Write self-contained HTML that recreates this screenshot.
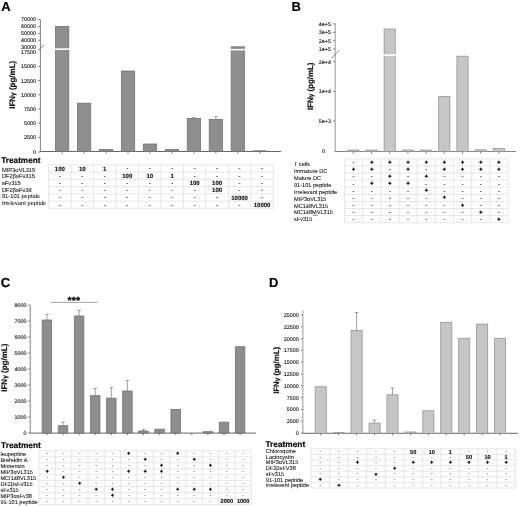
<!DOCTYPE html>
<html lang="en">
<head>
<meta charset="utf-8">
<title>Figure</title>
<style>
html,body{margin:0;padding:0;background:#fff;}
body{width:520px;height:506px;overflow:hidden;}
svg{display:block;font-family:'Liberation Sans', Arial, sans-serif;}
</style>
</head>
<body>
<svg width="520" height="506" viewBox="0 0 520 506" text-rendering="geometricPrecision" font-family='"Liberation Sans", Arial, sans-serif'>
<defs><filter id="soft" x="0" y="0" width="520" height="506" filterUnits="userSpaceOnUse" color-interpolation-filters="sRGB"><feGaussianBlur stdDeviation="0.3"/></filter></defs>
<g filter="url(#soft)">
<rect x="-5" y="-5" width="530" height="516" fill="#ffffff"/>
<text x="1.20" y="10.50" font-size="13" text-anchor="start" font-weight="bold" fill="#000" stroke="#000" stroke-width="0.15">A</text>
<line x1="40.40" y1="19.50" x2="40.40" y2="151.50" stroke="#747474" stroke-width="0.9"/>
<line x1="40.00" y1="151.50" x2="281.00" y2="151.50" stroke="#555555" stroke-width="0.9"/>
<line x1="37.50" y1="51.00" x2="43.80" y2="45.20" stroke="#555" stroke-width="0.7"/>
<text x="36.00" y="21.45" font-size="5.4" text-anchor="end" fill="#0c0c0c" stroke="#0c0c0c" stroke-width="0.1">70000</text>
<line x1="38.00" y1="19.50" x2="40.40" y2="19.50" stroke="#747474" stroke-width="0.9"/>
<text x="36.00" y="28.45" font-size="5.4" text-anchor="end" fill="#0c0c0c" stroke="#0c0c0c" stroke-width="0.1">60000</text>
<line x1="38.00" y1="26.50" x2="40.40" y2="26.50" stroke="#747474" stroke-width="0.9"/>
<text x="36.00" y="35.35" font-size="5.4" text-anchor="end" fill="#0c0c0c" stroke="#0c0c0c" stroke-width="0.1">50000</text>
<line x1="38.00" y1="33.40" x2="40.40" y2="33.40" stroke="#747474" stroke-width="0.9"/>
<text x="36.00" y="42.20" font-size="5.4" text-anchor="end" fill="#0c0c0c" stroke="#0c0c0c" stroke-width="0.1">40000</text>
<line x1="38.00" y1="40.25" x2="40.40" y2="40.25" stroke="#747474" stroke-width="0.9"/>
<text x="36.00" y="48.95" font-size="5.4" text-anchor="end" fill="#0c0c0c" stroke="#0c0c0c" stroke-width="0.1">30000</text>
<text x="36.00" y="54.15" font-size="5.4" text-anchor="end" fill="#0c0c0c" stroke="#0c0c0c" stroke-width="0.1">17500</text>
<text x="36.00" y="68.35" font-size="5.4" text-anchor="end" fill="#0c0c0c" stroke="#0c0c0c" stroke-width="0.1">15000</text>
<line x1="38.00" y1="66.40" x2="40.40" y2="66.40" stroke="#747474" stroke-width="0.9"/>
<text x="36.00" y="82.55" font-size="5.4" text-anchor="end" fill="#0c0c0c" stroke="#0c0c0c" stroke-width="0.1">12500</text>
<line x1="38.00" y1="80.60" x2="40.40" y2="80.60" stroke="#747474" stroke-width="0.9"/>
<text x="36.00" y="96.75" font-size="5.4" text-anchor="end" fill="#0c0c0c" stroke="#0c0c0c" stroke-width="0.1">10000</text>
<line x1="38.00" y1="94.80" x2="40.40" y2="94.80" stroke="#747474" stroke-width="0.9"/>
<text x="36.00" y="110.95" font-size="5.4" text-anchor="end" fill="#0c0c0c" stroke="#0c0c0c" stroke-width="0.1">7500</text>
<line x1="38.00" y1="109.00" x2="40.40" y2="109.00" stroke="#747474" stroke-width="0.9"/>
<text x="36.00" y="125.15" font-size="5.4" text-anchor="end" fill="#0c0c0c" stroke="#0c0c0c" stroke-width="0.1">5000</text>
<line x1="38.00" y1="123.20" x2="40.40" y2="123.20" stroke="#747474" stroke-width="0.9"/>
<text x="36.00" y="139.35" font-size="5.4" text-anchor="end" fill="#0c0c0c" stroke="#0c0c0c" stroke-width="0.1">2500</text>
<line x1="38.00" y1="137.40" x2="40.40" y2="137.40" stroke="#747474" stroke-width="0.9"/>
<text x="36.00" y="153.95" font-size="5.4" text-anchor="end" fill="#0c0c0c" stroke="#0c0c0c" stroke-width="0.1">0</text>
<line x1="38.00" y1="152.00" x2="40.40" y2="152.00" stroke="#747474" stroke-width="0.9"/>
<text transform="translate(14.60,84.80) rotate(-90)" font-size="8" font-weight="bold" text-anchor="middle" fill="#111" stroke="#111" stroke-width="0.2">IFN<tspan font-size="6.56">&#947;</tspan> (pg/mL)</text>
<rect x="55.50" y="26.40" width="13.30" height="125.10" fill="#8e8e8e" stroke="#727272" stroke-width="0.8"/>
<rect x="77.46" y="103.20" width="13.30" height="48.30" fill="#8e8e8e" stroke="#727272" stroke-width="0.8"/>
<rect x="99.42" y="149.40" width="13.30" height="2.10" fill="#8e8e8e" stroke="#727272" stroke-width="0.8"/>
<rect x="121.38" y="71.00" width="13.30" height="80.50" fill="#8e8e8e" stroke="#727272" stroke-width="0.8"/>
<rect x="143.34" y="144.00" width="13.30" height="7.50" fill="#8e8e8e" stroke="#727272" stroke-width="0.8"/>
<rect x="165.30" y="149.50" width="13.30" height="2.00" fill="#8e8e8e" stroke="#727272" stroke-width="0.8"/>
<rect x="187.26" y="118.40" width="13.30" height="33.10" fill="#8e8e8e" stroke="#727272" stroke-width="0.8"/>
<rect x="209.22" y="119.40" width="13.30" height="32.10" fill="#8e8e8e" stroke="#727272" stroke-width="0.8"/>
<rect x="231.18" y="46.80" width="13.30" height="104.70" fill="#8e8e8e" stroke="#727272" stroke-width="0.8"/>
<rect x="253.14" y="150.80" width="13.30" height="0.70" fill="#8e8e8e" stroke="#727272" stroke-width="0.8"/>
<line x1="193.91" y1="118.40" x2="193.91" y2="117.70" stroke="#6e6e6e" stroke-width="0.65"/>
<line x1="192.11" y1="117.70" x2="195.71" y2="117.70" stroke="#6e6e6e" stroke-width="0.65"/>
<line x1="215.87" y1="119.40" x2="215.87" y2="116.60" stroke="#6e6e6e" stroke-width="0.65"/>
<line x1="214.07" y1="116.60" x2="217.67" y2="116.60" stroke="#6e6e6e" stroke-width="0.65"/>
<rect x="54.65" y="48.30" width="15.00" height="1.60" fill="#fff"/>
<rect x="230.33" y="48.90" width="15.00" height="1.50" fill="#fff"/>
<line x1="62.15" y1="151.50" x2="62.15" y2="153.50" stroke="#555555" stroke-width="0.8"/>
<line x1="84.11" y1="151.50" x2="84.11" y2="153.50" stroke="#555555" stroke-width="0.8"/>
<line x1="106.07" y1="151.50" x2="106.07" y2="153.50" stroke="#555555" stroke-width="0.8"/>
<line x1="128.03" y1="151.50" x2="128.03" y2="153.50" stroke="#555555" stroke-width="0.8"/>
<line x1="149.99" y1="151.50" x2="149.99" y2="153.50" stroke="#555555" stroke-width="0.8"/>
<line x1="171.95" y1="151.50" x2="171.95" y2="153.50" stroke="#555555" stroke-width="0.8"/>
<line x1="193.91" y1="151.50" x2="193.91" y2="153.50" stroke="#555555" stroke-width="0.8"/>
<line x1="215.87" y1="151.50" x2="215.87" y2="153.50" stroke="#555555" stroke-width="0.8"/>
<line x1="237.83" y1="151.50" x2="237.83" y2="153.50" stroke="#555555" stroke-width="0.8"/>
<line x1="259.79" y1="151.50" x2="259.79" y2="153.50" stroke="#555555" stroke-width="0.8"/>
<text x="1.30" y="162.70" font-size="8.2" text-anchor="start" font-weight="bold" fill="#000" stroke="#000" stroke-width="0.15">Treatment</text>
<text x="1.90" y="171.50" font-size="5.75" text-anchor="start" fill="#0c0c0c" stroke="#0c0c0c" stroke-width="0.06">MIP3&#945;VL315</text>
<text x="1.90" y="178.17" font-size="5.75" text-anchor="start" fill="#0c0c0c" stroke="#0c0c0c" stroke-width="0.06">DF2&#946;sFv315</text>
<text x="1.90" y="184.84" font-size="5.75" text-anchor="start" fill="#0c0c0c" stroke="#0c0c0c" stroke-width="0.06">sFv315</text>
<text x="1.90" y="191.51" font-size="5.75" text-anchor="start" fill="#0c0c0c" stroke="#0c0c0c" stroke-width="0.06">DF2&#946;sFv38</text>
<text x="1.90" y="198.18" font-size="5.75" text-anchor="start" fill="#0c0c0c" stroke="#0c0c0c" stroke-width="0.06">91-101 peptide</text>
<text x="1.90" y="204.85" font-size="5.75" text-anchor="start" fill="#0c0c0c" stroke="#0c0c0c" stroke-width="0.06">Irrelevant peptide</text>
<line x1="48.60" y1="164.85" x2="273.30" y2="164.85" stroke="#d6d6d6" stroke-width="0.6"/>
<line x1="48.60" y1="172.10" x2="273.30" y2="172.10" stroke="#d6d6d6" stroke-width="0.6"/>
<line x1="48.60" y1="179.35" x2="273.30" y2="179.35" stroke="#d6d6d6" stroke-width="0.6"/>
<line x1="48.60" y1="186.60" x2="273.30" y2="186.60" stroke="#d6d6d6" stroke-width="0.6"/>
<line x1="48.60" y1="193.85" x2="273.30" y2="193.85" stroke="#d6d6d6" stroke-width="0.6"/>
<line x1="48.60" y1="201.10" x2="273.30" y2="201.10" stroke="#d6d6d6" stroke-width="0.6"/>
<line x1="48.60" y1="208.35" x2="273.30" y2="208.35" stroke="#d6d6d6" stroke-width="0.6"/>
<line x1="48.60" y1="164.85" x2="48.60" y2="208.35" stroke="#d6d6d6" stroke-width="0.6"/>
<line x1="71.07" y1="164.85" x2="71.07" y2="208.35" stroke="#d6d6d6" stroke-width="0.6"/>
<line x1="93.54" y1="164.85" x2="93.54" y2="208.35" stroke="#d6d6d6" stroke-width="0.6"/>
<line x1="116.01" y1="164.85" x2="116.01" y2="208.35" stroke="#d6d6d6" stroke-width="0.6"/>
<line x1="138.48" y1="164.85" x2="138.48" y2="208.35" stroke="#d6d6d6" stroke-width="0.6"/>
<line x1="160.95" y1="164.85" x2="160.95" y2="208.35" stroke="#d6d6d6" stroke-width="0.6"/>
<line x1="183.42" y1="164.85" x2="183.42" y2="208.35" stroke="#d6d6d6" stroke-width="0.6"/>
<line x1="205.89" y1="164.85" x2="205.89" y2="208.35" stroke="#d6d6d6" stroke-width="0.6"/>
<line x1="228.36" y1="164.85" x2="228.36" y2="208.35" stroke="#d6d6d6" stroke-width="0.6"/>
<line x1="250.83" y1="164.85" x2="250.83" y2="208.35" stroke="#d6d6d6" stroke-width="0.6"/>
<line x1="273.30" y1="164.85" x2="273.30" y2="208.35" stroke="#d6d6d6" stroke-width="0.6"/>
<text x="59.84" y="170.57" font-size="6" text-anchor="middle" font-weight="bold" fill="#111" stroke="#111" stroke-width="0.15">100</text>
<text x="82.31" y="170.57" font-size="6" text-anchor="middle" font-weight="bold" fill="#111" stroke="#111" stroke-width="0.15">10</text>
<text x="104.78" y="170.57" font-size="6" text-anchor="middle" font-weight="bold" fill="#111" stroke="#111" stroke-width="0.15">1</text>
<text x="127.25" y="170.34" font-size="6" text-anchor="middle" font-weight="bold" fill="#333" stroke="#333" stroke-width="0.06">-</text>
<text x="149.72" y="170.34" font-size="6" text-anchor="middle" font-weight="bold" fill="#333" stroke="#333" stroke-width="0.06">-</text>
<text x="172.19" y="170.34" font-size="6" text-anchor="middle" font-weight="bold" fill="#333" stroke="#333" stroke-width="0.06">-</text>
<text x="194.66" y="170.34" font-size="6" text-anchor="middle" font-weight="bold" fill="#333" stroke="#333" stroke-width="0.06">-</text>
<text x="217.12" y="170.34" font-size="6" text-anchor="middle" font-weight="bold" fill="#333" stroke="#333" stroke-width="0.06">-</text>
<text x="239.59" y="170.34" font-size="6" text-anchor="middle" font-weight="bold" fill="#333" stroke="#333" stroke-width="0.06">-</text>
<text x="262.06" y="170.34" font-size="6" text-anchor="middle" font-weight="bold" fill="#333" stroke="#333" stroke-width="0.06">-</text>
<text x="59.84" y="177.59" font-size="6" text-anchor="middle" font-weight="bold" fill="#333" stroke="#333" stroke-width="0.06">-</text>
<text x="82.31" y="177.59" font-size="6" text-anchor="middle" font-weight="bold" fill="#333" stroke="#333" stroke-width="0.06">-</text>
<text x="104.78" y="177.59" font-size="6" text-anchor="middle" font-weight="bold" fill="#333" stroke="#333" stroke-width="0.06">-</text>
<text x="127.25" y="177.82" font-size="6" text-anchor="middle" font-weight="bold" fill="#111" stroke="#111" stroke-width="0.15">100</text>
<text x="149.72" y="177.82" font-size="6" text-anchor="middle" font-weight="bold" fill="#111" stroke="#111" stroke-width="0.15">10</text>
<text x="172.19" y="177.82" font-size="6" text-anchor="middle" font-weight="bold" fill="#111" stroke="#111" stroke-width="0.15">1</text>
<text x="194.66" y="177.59" font-size="6" text-anchor="middle" font-weight="bold" fill="#333" stroke="#333" stroke-width="0.06">-</text>
<text x="217.12" y="177.59" font-size="6" text-anchor="middle" font-weight="bold" fill="#333" stroke="#333" stroke-width="0.06">-</text>
<text x="239.59" y="177.59" font-size="6" text-anchor="middle" font-weight="bold" fill="#333" stroke="#333" stroke-width="0.06">-</text>
<text x="262.06" y="177.59" font-size="6" text-anchor="middle" font-weight="bold" fill="#333" stroke="#333" stroke-width="0.06">-</text>
<text x="59.84" y="184.84" font-size="6" text-anchor="middle" font-weight="bold" fill="#333" stroke="#333" stroke-width="0.06">-</text>
<text x="82.31" y="184.84" font-size="6" text-anchor="middle" font-weight="bold" fill="#333" stroke="#333" stroke-width="0.06">-</text>
<text x="104.78" y="184.84" font-size="6" text-anchor="middle" font-weight="bold" fill="#333" stroke="#333" stroke-width="0.06">-</text>
<text x="127.25" y="184.84" font-size="6" text-anchor="middle" font-weight="bold" fill="#333" stroke="#333" stroke-width="0.06">-</text>
<text x="149.72" y="184.84" font-size="6" text-anchor="middle" font-weight="bold" fill="#333" stroke="#333" stroke-width="0.06">-</text>
<text x="172.19" y="184.84" font-size="6" text-anchor="middle" font-weight="bold" fill="#333" stroke="#333" stroke-width="0.06">-</text>
<text x="194.66" y="185.07" font-size="6" text-anchor="middle" font-weight="bold" fill="#111" stroke="#111" stroke-width="0.15">100</text>
<text x="217.12" y="185.07" font-size="6" text-anchor="middle" font-weight="bold" fill="#111" stroke="#111" stroke-width="0.15">100</text>
<text x="239.59" y="184.84" font-size="6" text-anchor="middle" font-weight="bold" fill="#333" stroke="#333" stroke-width="0.06">-</text>
<text x="262.06" y="184.84" font-size="6" text-anchor="middle" font-weight="bold" fill="#333" stroke="#333" stroke-width="0.06">-</text>
<text x="59.84" y="192.09" font-size="6" text-anchor="middle" font-weight="bold" fill="#333" stroke="#333" stroke-width="0.06">-</text>
<text x="82.31" y="192.09" font-size="6" text-anchor="middle" font-weight="bold" fill="#333" stroke="#333" stroke-width="0.06">-</text>
<text x="104.78" y="192.09" font-size="6" text-anchor="middle" font-weight="bold" fill="#333" stroke="#333" stroke-width="0.06">-</text>
<text x="127.25" y="192.09" font-size="6" text-anchor="middle" font-weight="bold" fill="#333" stroke="#333" stroke-width="0.06">-</text>
<text x="149.72" y="192.09" font-size="6" text-anchor="middle" font-weight="bold" fill="#333" stroke="#333" stroke-width="0.06">-</text>
<text x="172.19" y="192.09" font-size="6" text-anchor="middle" font-weight="bold" fill="#333" stroke="#333" stroke-width="0.06">-</text>
<text x="194.66" y="192.09" font-size="6" text-anchor="middle" font-weight="bold" fill="#333" stroke="#333" stroke-width="0.06">-</text>
<text x="217.12" y="192.32" font-size="6" text-anchor="middle" font-weight="bold" fill="#111" stroke="#111" stroke-width="0.15">100</text>
<text x="239.59" y="192.09" font-size="6" text-anchor="middle" font-weight="bold" fill="#333" stroke="#333" stroke-width="0.06">-</text>
<text x="262.06" y="192.09" font-size="6" text-anchor="middle" font-weight="bold" fill="#333" stroke="#333" stroke-width="0.06">-</text>
<text x="59.84" y="199.34" font-size="6" text-anchor="middle" font-weight="bold" fill="#333" stroke="#333" stroke-width="0.06">-</text>
<text x="82.31" y="199.34" font-size="6" text-anchor="middle" font-weight="bold" fill="#333" stroke="#333" stroke-width="0.06">-</text>
<text x="104.78" y="199.34" font-size="6" text-anchor="middle" font-weight="bold" fill="#333" stroke="#333" stroke-width="0.06">-</text>
<text x="127.25" y="199.34" font-size="6" text-anchor="middle" font-weight="bold" fill="#333" stroke="#333" stroke-width="0.06">-</text>
<text x="149.72" y="199.34" font-size="6" text-anchor="middle" font-weight="bold" fill="#333" stroke="#333" stroke-width="0.06">-</text>
<text x="172.19" y="199.34" font-size="6" text-anchor="middle" font-weight="bold" fill="#333" stroke="#333" stroke-width="0.06">-</text>
<text x="194.66" y="199.34" font-size="6" text-anchor="middle" font-weight="bold" fill="#333" stroke="#333" stroke-width="0.06">-</text>
<text x="217.12" y="199.34" font-size="6" text-anchor="middle" font-weight="bold" fill="#333" stroke="#333" stroke-width="0.06">-</text>
<text x="239.59" y="199.57" font-size="6" text-anchor="middle" font-weight="bold" fill="#111" stroke="#111" stroke-width="0.15">10000</text>
<text x="262.06" y="199.34" font-size="6" text-anchor="middle" font-weight="bold" fill="#333" stroke="#333" stroke-width="0.06">-</text>
<text x="59.84" y="206.59" font-size="6" text-anchor="middle" font-weight="bold" fill="#333" stroke="#333" stroke-width="0.06">-</text>
<text x="82.31" y="206.59" font-size="6" text-anchor="middle" font-weight="bold" fill="#333" stroke="#333" stroke-width="0.06">-</text>
<text x="104.78" y="206.59" font-size="6" text-anchor="middle" font-weight="bold" fill="#333" stroke="#333" stroke-width="0.06">-</text>
<text x="127.25" y="206.59" font-size="6" text-anchor="middle" font-weight="bold" fill="#333" stroke="#333" stroke-width="0.06">-</text>
<text x="149.72" y="206.59" font-size="6" text-anchor="middle" font-weight="bold" fill="#333" stroke="#333" stroke-width="0.06">-</text>
<text x="172.19" y="206.59" font-size="6" text-anchor="middle" font-weight="bold" fill="#333" stroke="#333" stroke-width="0.06">-</text>
<text x="194.66" y="206.59" font-size="6" text-anchor="middle" font-weight="bold" fill="#333" stroke="#333" stroke-width="0.06">-</text>
<text x="217.12" y="206.59" font-size="6" text-anchor="middle" font-weight="bold" fill="#333" stroke="#333" stroke-width="0.06">-</text>
<text x="239.59" y="206.59" font-size="6" text-anchor="middle" font-weight="bold" fill="#333" stroke="#333" stroke-width="0.06">-</text>
<text x="262.06" y="206.82" font-size="6" text-anchor="middle" font-weight="bold" fill="#111" stroke="#111" stroke-width="0.15">10000</text>
<text x="291.60" y="11.00" font-size="13" text-anchor="start" font-weight="bold" fill="#000" stroke="#000" stroke-width="0.15">B</text>
<line x1="335.20" y1="23.50" x2="335.20" y2="151.50" stroke="#808080" stroke-width="0.8"/>
<line x1="334.80" y1="151.50" x2="516.00" y2="151.50" stroke="#777" stroke-width="0.9"/>
<line x1="331.40" y1="58.00" x2="339.00" y2="50.60" stroke="#555" stroke-width="0.7"/>
<text x="331.00" y="25.85" font-size="5.4" text-anchor="end" fill="#0c0c0c" stroke="#0c0c0c" stroke-width="0.1">4e+5</text>
<line x1="333.00" y1="23.90" x2="335.20" y2="23.90" stroke="#747474" stroke-width="0.9"/>
<text x="331.00" y="34.25" font-size="5.4" text-anchor="end" fill="#0c0c0c" stroke="#0c0c0c" stroke-width="0.1">3e+5</text>
<line x1="333.00" y1="32.30" x2="335.20" y2="32.30" stroke="#747474" stroke-width="0.9"/>
<text x="331.00" y="42.65" font-size="5.4" text-anchor="end" fill="#0c0c0c" stroke="#0c0c0c" stroke-width="0.1">2e+5</text>
<line x1="333.00" y1="40.70" x2="335.20" y2="40.70" stroke="#747474" stroke-width="0.9"/>
<text x="331.00" y="51.05" font-size="5.4" text-anchor="end" fill="#0c0c0c" stroke="#0c0c0c" stroke-width="0.1">1e+5</text>
<line x1="333.00" y1="49.10" x2="335.20" y2="49.10" stroke="#747474" stroke-width="0.9"/>
<text x="331.00" y="63.55" font-size="5.4" text-anchor="end" fill="#0c0c0c" stroke="#0c0c0c" stroke-width="0.1">2e+4</text>
<line x1="333.00" y1="61.60" x2="335.20" y2="61.60" stroke="#747474" stroke-width="0.9"/>
<text x="331.00" y="93.45" font-size="5.4" text-anchor="end" fill="#0c0c0c" stroke="#0c0c0c" stroke-width="0.1">1e+4</text>
<line x1="333.00" y1="91.50" x2="335.20" y2="91.50" stroke="#747474" stroke-width="0.9"/>
<text x="331.00" y="122.95" font-size="5.4" text-anchor="end" fill="#0c0c0c" stroke="#0c0c0c" stroke-width="0.1">5e+3</text>
<line x1="333.00" y1="121.00" x2="335.20" y2="121.00" stroke="#747474" stroke-width="0.9"/>
<text transform="translate(313.40,86.30) rotate(-90)" font-size="7.9" font-weight="bold" text-anchor="middle" fill="#111" stroke="#111" stroke-width="0.2">IFN<tspan font-size="6.48">&#947;</tspan> (pg/mL)</text>
<text x="325.00" y="153.10" font-size="5.4" text-anchor="end" fill="#0c0c0c" stroke="#0c0c0c" stroke-width="0.1">0</text>
<rect x="347.70" y="150.00" width="11.20" height="1.50" fill="#c6c6c6" stroke="#969696" stroke-width="0.8"/>
<rect x="365.90" y="150.00" width="11.20" height="1.50" fill="#c6c6c6" stroke="#969696" stroke-width="0.8"/>
<rect x="384.10" y="29.00" width="11.20" height="122.50" fill="#c6c6c6" stroke="#969696" stroke-width="0.8"/>
<rect x="402.30" y="150.00" width="11.20" height="1.50" fill="#c6c6c6" stroke="#969696" stroke-width="0.8"/>
<rect x="420.50" y="150.00" width="11.20" height="1.50" fill="#c6c6c6" stroke="#969696" stroke-width="0.8"/>
<rect x="438.70" y="96.50" width="11.20" height="55.00" fill="#c6c6c6" stroke="#969696" stroke-width="0.8"/>
<rect x="456.90" y="56.20" width="11.20" height="95.30" fill="#c6c6c6" stroke="#969696" stroke-width="0.8"/>
<rect x="475.10" y="149.80" width="11.20" height="1.70" fill="#c6c6c6" stroke="#969696" stroke-width="0.8"/>
<rect x="493.30" y="148.50" width="11.20" height="3.00" fill="#c6c6c6" stroke="#969696" stroke-width="0.8"/>
<rect x="383.20" y="54.20" width="13.00" height="1.70" fill="#fff"/>
<line x1="353.30" y1="151.50" x2="353.30" y2="153.50" stroke="#555555" stroke-width="0.8"/>
<line x1="371.50" y1="151.50" x2="371.50" y2="153.50" stroke="#555555" stroke-width="0.8"/>
<line x1="389.70" y1="151.50" x2="389.70" y2="153.50" stroke="#555555" stroke-width="0.8"/>
<line x1="407.90" y1="151.50" x2="407.90" y2="153.50" stroke="#555555" stroke-width="0.8"/>
<line x1="426.10" y1="151.50" x2="426.10" y2="153.50" stroke="#555555" stroke-width="0.8"/>
<line x1="444.30" y1="151.50" x2="444.30" y2="153.50" stroke="#555555" stroke-width="0.8"/>
<line x1="462.50" y1="151.50" x2="462.50" y2="153.50" stroke="#555555" stroke-width="0.8"/>
<line x1="480.70" y1="151.50" x2="480.70" y2="153.50" stroke="#555555" stroke-width="0.8"/>
<line x1="498.90" y1="151.50" x2="498.90" y2="153.50" stroke="#555555" stroke-width="0.8"/>
<text x="294.00" y="166.40" font-size="5.6" text-anchor="start" fill="#0c0c0c" stroke="#0c0c0c" stroke-width="0.06">T cells</text>
<text x="294.00" y="173.26" font-size="5.6" text-anchor="start" fill="#0c0c0c" stroke="#0c0c0c" stroke-width="0.06">Immature DC</text>
<text x="294.00" y="180.12" font-size="5.6" text-anchor="start" fill="#0c0c0c" stroke="#0c0c0c" stroke-width="0.06">Mature DC</text>
<text x="294.00" y="186.98" font-size="5.6" text-anchor="start" fill="#0c0c0c" stroke="#0c0c0c" stroke-width="0.06">91-101 peptide</text>
<text x="294.00" y="193.84" font-size="5.6" text-anchor="start" fill="#0c0c0c" stroke="#0c0c0c" stroke-width="0.06">Irrelevant peptide</text>
<text x="294.00" y="200.70" font-size="5.6" text-anchor="start" fill="#0c0c0c" stroke="#0c0c0c" stroke-width="0.06">MIP3&#945;VL315</text>
<text x="294.00" y="207.56" font-size="5.6" text-anchor="start" fill="#0c0c0c" stroke="#0c0c0c" stroke-width="0.06">MC148VL315</text>
<text x="294.00" y="214.42" font-size="5.6" text-anchor="start" fill="#0c0c0c" stroke="#0c0c0c" stroke-width="0.06">MC148MVL315</text>
<text x="294.00" y="221.28" font-size="5.6" text-anchor="start" fill="#0c0c0c" stroke="#0c0c0c" stroke-width="0.06">sFv315</text>
<line x1="312.98" y1="215.32" x2="317.63" y2="215.32" stroke="#111" stroke-width="0.5"/>
<line x1="344.50" y1="158.80" x2="508.03" y2="158.80" stroke="#d6d6d6" stroke-width="0.6"/>
<line x1="344.50" y1="165.90" x2="508.03" y2="165.90" stroke="#d6d6d6" stroke-width="0.6"/>
<line x1="344.50" y1="173.00" x2="508.03" y2="173.00" stroke="#d6d6d6" stroke-width="0.6"/>
<line x1="344.50" y1="180.10" x2="508.03" y2="180.10" stroke="#d6d6d6" stroke-width="0.6"/>
<line x1="344.50" y1="187.20" x2="508.03" y2="187.20" stroke="#d6d6d6" stroke-width="0.6"/>
<line x1="344.50" y1="194.30" x2="508.03" y2="194.30" stroke="#d6d6d6" stroke-width="0.6"/>
<line x1="344.50" y1="201.40" x2="508.03" y2="201.40" stroke="#d6d6d6" stroke-width="0.6"/>
<line x1="344.50" y1="208.50" x2="508.03" y2="208.50" stroke="#d6d6d6" stroke-width="0.6"/>
<line x1="344.50" y1="215.60" x2="508.03" y2="215.60" stroke="#d6d6d6" stroke-width="0.6"/>
<line x1="344.50" y1="222.70" x2="508.03" y2="222.70" stroke="#d6d6d6" stroke-width="0.6"/>
<line x1="344.50" y1="158.80" x2="344.50" y2="222.70" stroke="#d6d6d6" stroke-width="0.6"/>
<line x1="362.67" y1="158.80" x2="362.67" y2="222.70" stroke="#d6d6d6" stroke-width="0.6"/>
<line x1="380.84" y1="158.80" x2="380.84" y2="222.70" stroke="#d6d6d6" stroke-width="0.6"/>
<line x1="399.01" y1="158.80" x2="399.01" y2="222.70" stroke="#d6d6d6" stroke-width="0.6"/>
<line x1="417.18" y1="158.80" x2="417.18" y2="222.70" stroke="#d6d6d6" stroke-width="0.6"/>
<line x1="435.35" y1="158.80" x2="435.35" y2="222.70" stroke="#d6d6d6" stroke-width="0.6"/>
<line x1="453.52" y1="158.80" x2="453.52" y2="222.70" stroke="#d6d6d6" stroke-width="0.6"/>
<line x1="471.69" y1="158.80" x2="471.69" y2="222.70" stroke="#d6d6d6" stroke-width="0.6"/>
<line x1="489.86" y1="158.80" x2="489.86" y2="222.70" stroke="#d6d6d6" stroke-width="0.6"/>
<line x1="508.03" y1="158.80" x2="508.03" y2="222.70" stroke="#d6d6d6" stroke-width="0.6"/>
<text x="353.58" y="164.21" font-size="6" text-anchor="middle" font-weight="bold" fill="#333" stroke="#333" stroke-width="0.06">-</text>
<text x="371.75" y="163.97" font-size="5.4" text-anchor="middle" font-weight="bold" fill="#000" stroke="#000" stroke-width="0.4">+</text>
<text x="389.93" y="163.97" font-size="5.4" text-anchor="middle" font-weight="bold" fill="#000" stroke="#000" stroke-width="0.4">+</text>
<text x="408.10" y="163.97" font-size="5.4" text-anchor="middle" font-weight="bold" fill="#000" stroke="#000" stroke-width="0.4">+</text>
<text x="426.26" y="163.97" font-size="5.4" text-anchor="middle" font-weight="bold" fill="#000" stroke="#000" stroke-width="0.4">+</text>
<text x="444.44" y="163.97" font-size="5.4" text-anchor="middle" font-weight="bold" fill="#000" stroke="#000" stroke-width="0.4">+</text>
<text x="462.61" y="163.97" font-size="5.4" text-anchor="middle" font-weight="bold" fill="#000" stroke="#000" stroke-width="0.4">+</text>
<text x="480.77" y="163.97" font-size="5.4" text-anchor="middle" font-weight="bold" fill="#000" stroke="#000" stroke-width="0.4">+</text>
<text x="498.95" y="163.97" font-size="5.4" text-anchor="middle" font-weight="bold" fill="#000" stroke="#000" stroke-width="0.4">+</text>
<text x="353.58" y="171.07" font-size="5.4" text-anchor="middle" font-weight="bold" fill="#000" stroke="#000" stroke-width="0.4">+</text>
<text x="371.75" y="171.07" font-size="5.4" text-anchor="middle" font-weight="bold" fill="#000" stroke="#000" stroke-width="0.4">+</text>
<text x="389.93" y="171.31" font-size="6" text-anchor="middle" font-weight="bold" fill="#333" stroke="#333" stroke-width="0.06">-</text>
<text x="408.10" y="171.07" font-size="5.4" text-anchor="middle" font-weight="bold" fill="#000" stroke="#000" stroke-width="0.4">+</text>
<text x="426.26" y="171.31" font-size="6" text-anchor="middle" font-weight="bold" fill="#333" stroke="#333" stroke-width="0.06">-</text>
<text x="444.44" y="171.07" font-size="5.4" text-anchor="middle" font-weight="bold" fill="#000" stroke="#000" stroke-width="0.4">+</text>
<text x="462.61" y="171.07" font-size="5.4" text-anchor="middle" font-weight="bold" fill="#000" stroke="#000" stroke-width="0.4">+</text>
<text x="480.77" y="171.07" font-size="5.4" text-anchor="middle" font-weight="bold" fill="#000" stroke="#000" stroke-width="0.4">+</text>
<text x="498.95" y="171.07" font-size="5.4" text-anchor="middle" font-weight="bold" fill="#000" stroke="#000" stroke-width="0.4">+</text>
<text x="353.58" y="178.41" font-size="6" text-anchor="middle" font-weight="bold" fill="#333" stroke="#333" stroke-width="0.06">-</text>
<text x="371.75" y="178.41" font-size="6" text-anchor="middle" font-weight="bold" fill="#333" stroke="#333" stroke-width="0.06">-</text>
<text x="389.93" y="178.17" font-size="5.4" text-anchor="middle" font-weight="bold" fill="#000" stroke="#000" stroke-width="0.4">+</text>
<text x="408.10" y="178.41" font-size="6" text-anchor="middle" font-weight="bold" fill="#333" stroke="#333" stroke-width="0.06">-</text>
<text x="426.26" y="178.17" font-size="5.4" text-anchor="middle" font-weight="bold" fill="#000" stroke="#000" stroke-width="0.4">+</text>
<text x="444.44" y="178.41" font-size="6" text-anchor="middle" font-weight="bold" fill="#333" stroke="#333" stroke-width="0.06">-</text>
<text x="462.61" y="178.41" font-size="6" text-anchor="middle" font-weight="bold" fill="#333" stroke="#333" stroke-width="0.06">-</text>
<text x="480.77" y="178.41" font-size="6" text-anchor="middle" font-weight="bold" fill="#333" stroke="#333" stroke-width="0.06">-</text>
<text x="498.95" y="178.41" font-size="6" text-anchor="middle" font-weight="bold" fill="#333" stroke="#333" stroke-width="0.06">-</text>
<text x="353.58" y="185.51" font-size="6" text-anchor="middle" font-weight="bold" fill="#333" stroke="#333" stroke-width="0.06">-</text>
<text x="371.75" y="185.27" font-size="5.4" text-anchor="middle" font-weight="bold" fill="#000" stroke="#000" stroke-width="0.4">+</text>
<text x="389.93" y="185.27" font-size="5.4" text-anchor="middle" font-weight="bold" fill="#000" stroke="#000" stroke-width="0.4">+</text>
<text x="408.10" y="185.27" font-size="5.4" text-anchor="middle" font-weight="bold" fill="#000" stroke="#000" stroke-width="0.4">+</text>
<text x="426.26" y="185.51" font-size="6" text-anchor="middle" font-weight="bold" fill="#333" stroke="#333" stroke-width="0.06">-</text>
<text x="444.44" y="185.51" font-size="6" text-anchor="middle" font-weight="bold" fill="#333" stroke="#333" stroke-width="0.06">-</text>
<text x="462.61" y="185.51" font-size="6" text-anchor="middle" font-weight="bold" fill="#333" stroke="#333" stroke-width="0.06">-</text>
<text x="480.77" y="185.51" font-size="6" text-anchor="middle" font-weight="bold" fill="#333" stroke="#333" stroke-width="0.06">-</text>
<text x="498.95" y="185.51" font-size="6" text-anchor="middle" font-weight="bold" fill="#333" stroke="#333" stroke-width="0.06">-</text>
<text x="353.58" y="192.61" font-size="6" text-anchor="middle" font-weight="bold" fill="#333" stroke="#333" stroke-width="0.06">-</text>
<text x="371.75" y="192.61" font-size="6" text-anchor="middle" font-weight="bold" fill="#333" stroke="#333" stroke-width="0.06">-</text>
<text x="389.93" y="192.61" font-size="6" text-anchor="middle" font-weight="bold" fill="#333" stroke="#333" stroke-width="0.06">-</text>
<text x="408.10" y="192.61" font-size="6" text-anchor="middle" font-weight="bold" fill="#333" stroke="#333" stroke-width="0.06">-</text>
<text x="426.26" y="192.37" font-size="5.4" text-anchor="middle" font-weight="bold" fill="#000" stroke="#000" stroke-width="0.4">+</text>
<text x="444.44" y="192.61" font-size="6" text-anchor="middle" font-weight="bold" fill="#333" stroke="#333" stroke-width="0.06">-</text>
<text x="462.61" y="192.61" font-size="6" text-anchor="middle" font-weight="bold" fill="#333" stroke="#333" stroke-width="0.06">-</text>
<text x="480.77" y="192.61" font-size="6" text-anchor="middle" font-weight="bold" fill="#333" stroke="#333" stroke-width="0.06">-</text>
<text x="498.95" y="192.61" font-size="6" text-anchor="middle" font-weight="bold" fill="#333" stroke="#333" stroke-width="0.06">-</text>
<text x="353.58" y="199.71" font-size="6" text-anchor="middle" font-weight="bold" fill="#333" stroke="#333" stroke-width="0.06">-</text>
<text x="371.75" y="199.71" font-size="6" text-anchor="middle" font-weight="bold" fill="#333" stroke="#333" stroke-width="0.06">-</text>
<text x="389.93" y="199.71" font-size="6" text-anchor="middle" font-weight="bold" fill="#333" stroke="#333" stroke-width="0.06">-</text>
<text x="408.10" y="199.71" font-size="6" text-anchor="middle" font-weight="bold" fill="#333" stroke="#333" stroke-width="0.06">-</text>
<text x="426.26" y="199.71" font-size="6" text-anchor="middle" font-weight="bold" fill="#333" stroke="#333" stroke-width="0.06">-</text>
<text x="444.44" y="199.47" font-size="5.4" text-anchor="middle" font-weight="bold" fill="#000" stroke="#000" stroke-width="0.4">+</text>
<text x="462.61" y="199.71" font-size="6" text-anchor="middle" font-weight="bold" fill="#333" stroke="#333" stroke-width="0.06">-</text>
<text x="480.77" y="199.71" font-size="6" text-anchor="middle" font-weight="bold" fill="#333" stroke="#333" stroke-width="0.06">-</text>
<text x="498.95" y="199.71" font-size="6" text-anchor="middle" font-weight="bold" fill="#333" stroke="#333" stroke-width="0.06">-</text>
<text x="353.58" y="206.81" font-size="6" text-anchor="middle" font-weight="bold" fill="#333" stroke="#333" stroke-width="0.06">-</text>
<text x="371.75" y="206.81" font-size="6" text-anchor="middle" font-weight="bold" fill="#333" stroke="#333" stroke-width="0.06">-</text>
<text x="389.93" y="206.81" font-size="6" text-anchor="middle" font-weight="bold" fill="#333" stroke="#333" stroke-width="0.06">-</text>
<text x="408.10" y="206.81" font-size="6" text-anchor="middle" font-weight="bold" fill="#333" stroke="#333" stroke-width="0.06">-</text>
<text x="426.26" y="206.81" font-size="6" text-anchor="middle" font-weight="bold" fill="#333" stroke="#333" stroke-width="0.06">-</text>
<text x="444.44" y="206.81" font-size="6" text-anchor="middle" font-weight="bold" fill="#333" stroke="#333" stroke-width="0.06">-</text>
<text x="462.61" y="206.57" font-size="5.4" text-anchor="middle" font-weight="bold" fill="#000" stroke="#000" stroke-width="0.4">+</text>
<text x="480.77" y="206.81" font-size="6" text-anchor="middle" font-weight="bold" fill="#333" stroke="#333" stroke-width="0.06">-</text>
<text x="498.95" y="206.81" font-size="6" text-anchor="middle" font-weight="bold" fill="#333" stroke="#333" stroke-width="0.06">-</text>
<text x="353.58" y="213.91" font-size="6" text-anchor="middle" font-weight="bold" fill="#333" stroke="#333" stroke-width="0.06">-</text>
<text x="371.75" y="213.91" font-size="6" text-anchor="middle" font-weight="bold" fill="#333" stroke="#333" stroke-width="0.06">-</text>
<text x="389.93" y="213.91" font-size="6" text-anchor="middle" font-weight="bold" fill="#333" stroke="#333" stroke-width="0.06">-</text>
<text x="408.10" y="213.91" font-size="6" text-anchor="middle" font-weight="bold" fill="#333" stroke="#333" stroke-width="0.06">-</text>
<text x="426.26" y="213.91" font-size="6" text-anchor="middle" font-weight="bold" fill="#333" stroke="#333" stroke-width="0.06">-</text>
<text x="444.44" y="213.91" font-size="6" text-anchor="middle" font-weight="bold" fill="#333" stroke="#333" stroke-width="0.06">-</text>
<text x="462.61" y="213.91" font-size="6" text-anchor="middle" font-weight="bold" fill="#333" stroke="#333" stroke-width="0.06">-</text>
<text x="480.77" y="213.67" font-size="5.4" text-anchor="middle" font-weight="bold" fill="#000" stroke="#000" stroke-width="0.4">+</text>
<text x="498.95" y="213.91" font-size="6" text-anchor="middle" font-weight="bold" fill="#333" stroke="#333" stroke-width="0.06">-</text>
<text x="353.58" y="221.01" font-size="6" text-anchor="middle" font-weight="bold" fill="#333" stroke="#333" stroke-width="0.06">-</text>
<text x="371.75" y="221.01" font-size="6" text-anchor="middle" font-weight="bold" fill="#333" stroke="#333" stroke-width="0.06">-</text>
<text x="389.93" y="221.01" font-size="6" text-anchor="middle" font-weight="bold" fill="#333" stroke="#333" stroke-width="0.06">-</text>
<text x="408.10" y="221.01" font-size="6" text-anchor="middle" font-weight="bold" fill="#333" stroke="#333" stroke-width="0.06">-</text>
<text x="426.26" y="221.01" font-size="6" text-anchor="middle" font-weight="bold" fill="#333" stroke="#333" stroke-width="0.06">-</text>
<text x="444.44" y="221.01" font-size="6" text-anchor="middle" font-weight="bold" fill="#333" stroke="#333" stroke-width="0.06">-</text>
<text x="462.61" y="221.01" font-size="6" text-anchor="middle" font-weight="bold" fill="#333" stroke="#333" stroke-width="0.06">-</text>
<text x="480.77" y="221.01" font-size="6" text-anchor="middle" font-weight="bold" fill="#333" stroke="#333" stroke-width="0.06">-</text>
<text x="498.95" y="220.77" font-size="5.4" text-anchor="middle" font-weight="bold" fill="#000" stroke="#000" stroke-width="0.4">+</text>
<text x="0.80" y="287.10" font-size="13" text-anchor="start" font-weight="bold" fill="#000" stroke="#000" stroke-width="0.15">C</text>
<line x1="30.20" y1="305.00" x2="30.20" y2="433.10" stroke="#747474" stroke-width="0.9"/>
<line x1="29.80" y1="433.10" x2="256.00" y2="433.10" stroke="#555555" stroke-width="0.9"/>
<text x="26.40" y="435.45" font-size="5.4" text-anchor="end" fill="#0c0c0c" stroke="#0c0c0c" stroke-width="0.1">0</text>
<line x1="28.20" y1="433.00" x2="30.20" y2="433.00" stroke="#747474" stroke-width="0.9"/>
<text x="26.40" y="419.45" font-size="5.4" text-anchor="end" fill="#0c0c0c" stroke="#0c0c0c" stroke-width="0.1">1000</text>
<line x1="28.20" y1="417.00" x2="30.20" y2="417.00" stroke="#747474" stroke-width="0.9"/>
<text x="26.40" y="403.45" font-size="5.4" text-anchor="end" fill="#0c0c0c" stroke="#0c0c0c" stroke-width="0.1">2000</text>
<line x1="28.20" y1="401.00" x2="30.20" y2="401.00" stroke="#747474" stroke-width="0.9"/>
<text x="26.40" y="387.45" font-size="5.4" text-anchor="end" fill="#0c0c0c" stroke="#0c0c0c" stroke-width="0.1">3000</text>
<line x1="28.20" y1="385.00" x2="30.20" y2="385.00" stroke="#747474" stroke-width="0.9"/>
<text x="26.40" y="371.45" font-size="5.4" text-anchor="end" fill="#0c0c0c" stroke="#0c0c0c" stroke-width="0.1">4000</text>
<line x1="28.20" y1="369.00" x2="30.20" y2="369.00" stroke="#747474" stroke-width="0.9"/>
<text x="26.40" y="355.45" font-size="5.4" text-anchor="end" fill="#0c0c0c" stroke="#0c0c0c" stroke-width="0.1">5000</text>
<line x1="28.20" y1="353.00" x2="30.20" y2="353.00" stroke="#747474" stroke-width="0.9"/>
<text x="26.40" y="339.45" font-size="5.4" text-anchor="end" fill="#0c0c0c" stroke="#0c0c0c" stroke-width="0.1">6000</text>
<line x1="28.20" y1="337.00" x2="30.20" y2="337.00" stroke="#747474" stroke-width="0.9"/>
<text x="26.40" y="323.45" font-size="5.4" text-anchor="end" fill="#0c0c0c" stroke="#0c0c0c" stroke-width="0.1">7000</text>
<line x1="28.20" y1="321.00" x2="30.20" y2="321.00" stroke="#747474" stroke-width="0.9"/>
<text x="26.40" y="307.45" font-size="5.4" text-anchor="end" fill="#0c0c0c" stroke="#0c0c0c" stroke-width="0.1">8000</text>
<line x1="28.20" y1="305.00" x2="30.20" y2="305.00" stroke="#747474" stroke-width="0.9"/>
<text transform="translate(6.60,367.70) rotate(-90)" font-size="8" font-weight="bold" text-anchor="middle" fill="#111" stroke="#111" stroke-width="0.2">IFN<tspan font-size="6.56">&#947;</tspan> (pg/mL)</text>
<rect x="42.15" y="320.00" width="9.50" height="113.10" fill="#8e8e8e" stroke="#727272" stroke-width="0.8"/>
<rect x="58.25" y="425.70" width="9.50" height="7.40" fill="#8e8e8e" stroke="#727272" stroke-width="0.8"/>
<rect x="74.35" y="316.00" width="9.50" height="117.10" fill="#8e8e8e" stroke="#727272" stroke-width="0.8"/>
<rect x="90.45" y="395.70" width="9.50" height="37.40" fill="#8e8e8e" stroke="#727272" stroke-width="0.8"/>
<rect x="106.55" y="398.20" width="9.50" height="34.90" fill="#8e8e8e" stroke="#727272" stroke-width="0.8"/>
<rect x="122.65" y="391.00" width="9.50" height="42.10" fill="#8e8e8e" stroke="#727272" stroke-width="0.8"/>
<rect x="138.75" y="431.00" width="9.50" height="2.10" fill="#8e8e8e" stroke="#727272" stroke-width="0.8"/>
<rect x="154.85" y="429.20" width="9.50" height="3.90" fill="#8e8e8e" stroke="#727272" stroke-width="0.8"/>
<rect x="170.95" y="409.40" width="9.50" height="23.70" fill="#8e8e8e" stroke="#727272" stroke-width="0.8"/>
<rect x="203.15" y="431.70" width="9.50" height="1.40" fill="#8e8e8e" stroke="#727272" stroke-width="0.8"/>
<rect x="219.25" y="422.20" width="9.50" height="10.90" fill="#8e8e8e" stroke="#727272" stroke-width="0.8"/>
<rect x="235.35" y="346.75" width="9.50" height="86.35" fill="#8e8e8e" stroke="#727272" stroke-width="0.8"/>
<line x1="46.90" y1="320.00" x2="46.90" y2="314.40" stroke="#6e6e6e" stroke-width="0.65"/>
<line x1="45.10" y1="314.40" x2="48.70" y2="314.40" stroke="#6e6e6e" stroke-width="0.65"/>
<line x1="63.00" y1="425.70" x2="63.00" y2="422.00" stroke="#6e6e6e" stroke-width="0.65"/>
<line x1="61.20" y1="422.00" x2="64.80" y2="422.00" stroke="#6e6e6e" stroke-width="0.65"/>
<line x1="79.10" y1="316.00" x2="79.10" y2="310.20" stroke="#6e6e6e" stroke-width="0.65"/>
<line x1="77.30" y1="310.20" x2="80.90" y2="310.20" stroke="#6e6e6e" stroke-width="0.65"/>
<line x1="95.20" y1="395.70" x2="95.20" y2="388.50" stroke="#6e6e6e" stroke-width="0.65"/>
<line x1="93.40" y1="388.50" x2="97.00" y2="388.50" stroke="#6e6e6e" stroke-width="0.65"/>
<line x1="111.30" y1="398.20" x2="111.30" y2="387.60" stroke="#6e6e6e" stroke-width="0.65"/>
<line x1="109.50" y1="387.60" x2="113.10" y2="387.60" stroke="#6e6e6e" stroke-width="0.65"/>
<line x1="127.40" y1="391.00" x2="127.40" y2="380.50" stroke="#6e6e6e" stroke-width="0.65"/>
<line x1="125.60" y1="380.50" x2="129.20" y2="380.50" stroke="#6e6e6e" stroke-width="0.65"/>
<line x1="143.50" y1="431.00" x2="143.50" y2="429.60" stroke="#6e6e6e" stroke-width="0.65"/>
<line x1="141.70" y1="429.60" x2="145.30" y2="429.60" stroke="#6e6e6e" stroke-width="0.65"/>
<line x1="46.90" y1="433.10" x2="46.90" y2="435.10" stroke="#555555" stroke-width="0.8"/>
<line x1="63.00" y1="433.10" x2="63.00" y2="435.10" stroke="#555555" stroke-width="0.8"/>
<line x1="79.10" y1="433.10" x2="79.10" y2="435.10" stroke="#555555" stroke-width="0.8"/>
<line x1="95.20" y1="433.10" x2="95.20" y2="435.10" stroke="#555555" stroke-width="0.8"/>
<line x1="111.30" y1="433.10" x2="111.30" y2="435.10" stroke="#555555" stroke-width="0.8"/>
<line x1="127.40" y1="433.10" x2="127.40" y2="435.10" stroke="#555555" stroke-width="0.8"/>
<line x1="143.50" y1="433.10" x2="143.50" y2="435.10" stroke="#555555" stroke-width="0.8"/>
<line x1="159.60" y1="433.10" x2="159.60" y2="435.10" stroke="#555555" stroke-width="0.8"/>
<line x1="175.70" y1="433.10" x2="175.70" y2="435.10" stroke="#555555" stroke-width="0.8"/>
<line x1="191.80" y1="433.10" x2="191.80" y2="435.10" stroke="#555555" stroke-width="0.8"/>
<line x1="207.90" y1="433.10" x2="207.90" y2="435.10" stroke="#555555" stroke-width="0.8"/>
<line x1="224.00" y1="433.10" x2="224.00" y2="435.10" stroke="#555555" stroke-width="0.8"/>
<line x1="240.10" y1="433.10" x2="240.10" y2="435.10" stroke="#555555" stroke-width="0.8"/>
<line x1="50.90" y1="302.40" x2="97.60" y2="302.40" stroke="#666" stroke-width="0.6"/>
<text x="73.90" y="303.70" font-size="10.5" text-anchor="middle" font-weight="bold" fill="#000" letter-spacing="0.2" stroke="#000" stroke-width="0.25">***</text>
<text x="1.10" y="447.50" font-size="8.3" text-anchor="start" font-weight="bold" fill="#000" stroke="#000" stroke-width="0.15">Treatment</text>
<text x="0.40" y="456.10" font-size="5.6" text-anchor="start" fill="#0c0c0c" stroke="#0c0c0c" stroke-width="0.06">leupeptine</text>
<text x="0.40" y="462.10" font-size="5.6" text-anchor="start" fill="#0c0c0c" stroke="#0c0c0c" stroke-width="0.06">Brefeldin A</text>
<text x="0.40" y="468.10" font-size="5.6" text-anchor="start" fill="#0c0c0c" stroke="#0c0c0c" stroke-width="0.06">Monensin</text>
<text x="0.40" y="474.10" font-size="5.6" text-anchor="start" fill="#0c0c0c" stroke="#0c0c0c" stroke-width="0.06">MIP3&#945;VL315</text>
<text x="0.40" y="480.10" font-size="5.6" text-anchor="start" fill="#0c0c0c" stroke="#0c0c0c" stroke-width="0.06">MCI148VL315</text>
<text x="0.40" y="486.10" font-size="5.6" text-anchor="start" fill="#0c0c0c" stroke="#0c0c0c" stroke-width="0.06">DF2&#946;sFv315</text>
<text x="0.40" y="492.10" font-size="5.6" text-anchor="start" fill="#0c0c0c" stroke="#0c0c0c" stroke-width="0.06">sFv315</text>
<text x="0.40" y="498.10" font-size="5.6" text-anchor="start" fill="#0c0c0c" stroke="#0c0c0c" stroke-width="0.06">MIP3&#945;sFv38</text>
<text x="0.40" y="504.10" font-size="5.6" text-anchor="start" fill="#0c0c0c" stroke="#0c0c0c" stroke-width="0.06">91-101 peptide</text>
<line x1="39.00" y1="450.80" x2="251.29" y2="450.80" stroke="#d6d6d6" stroke-width="0.6"/>
<line x1="39.00" y1="456.77" x2="251.29" y2="456.77" stroke="#d6d6d6" stroke-width="0.6"/>
<line x1="39.00" y1="462.74" x2="251.29" y2="462.74" stroke="#d6d6d6" stroke-width="0.6"/>
<line x1="39.00" y1="468.71" x2="251.29" y2="468.71" stroke="#d6d6d6" stroke-width="0.6"/>
<line x1="39.00" y1="474.68" x2="251.29" y2="474.68" stroke="#d6d6d6" stroke-width="0.6"/>
<line x1="39.00" y1="480.65" x2="251.29" y2="480.65" stroke="#d6d6d6" stroke-width="0.6"/>
<line x1="39.00" y1="486.62" x2="251.29" y2="486.62" stroke="#d6d6d6" stroke-width="0.6"/>
<line x1="39.00" y1="492.59" x2="251.29" y2="492.59" stroke="#d6d6d6" stroke-width="0.6"/>
<line x1="39.00" y1="498.56" x2="251.29" y2="498.56" stroke="#d6d6d6" stroke-width="0.6"/>
<line x1="39.00" y1="504.53" x2="251.29" y2="504.53" stroke="#d6d6d6" stroke-width="0.6"/>
<line x1="39.00" y1="450.80" x2="39.00" y2="504.53" stroke="#d6d6d6" stroke-width="0.6"/>
<line x1="55.33" y1="450.80" x2="55.33" y2="504.53" stroke="#d6d6d6" stroke-width="0.6"/>
<line x1="71.66" y1="450.80" x2="71.66" y2="504.53" stroke="#d6d6d6" stroke-width="0.6"/>
<line x1="87.99" y1="450.80" x2="87.99" y2="504.53" stroke="#d6d6d6" stroke-width="0.6"/>
<line x1="104.32" y1="450.80" x2="104.32" y2="504.53" stroke="#d6d6d6" stroke-width="0.6"/>
<line x1="120.65" y1="450.80" x2="120.65" y2="504.53" stroke="#d6d6d6" stroke-width="0.6"/>
<line x1="136.98" y1="450.80" x2="136.98" y2="504.53" stroke="#d6d6d6" stroke-width="0.6"/>
<line x1="153.31" y1="450.80" x2="153.31" y2="504.53" stroke="#d6d6d6" stroke-width="0.6"/>
<line x1="169.64" y1="450.80" x2="169.64" y2="504.53" stroke="#d6d6d6" stroke-width="0.6"/>
<line x1="185.97" y1="450.80" x2="185.97" y2="504.53" stroke="#d6d6d6" stroke-width="0.6"/>
<line x1="202.30" y1="450.80" x2="202.30" y2="504.53" stroke="#d6d6d6" stroke-width="0.6"/>
<line x1="218.63" y1="450.80" x2="218.63" y2="504.53" stroke="#d6d6d6" stroke-width="0.6"/>
<line x1="234.96" y1="450.80" x2="234.96" y2="504.53" stroke="#d6d6d6" stroke-width="0.6"/>
<line x1="251.29" y1="450.80" x2="251.29" y2="504.53" stroke="#d6d6d6" stroke-width="0.6"/>
<text x="47.16" y="455.21" font-size="4.6" text-anchor="middle" font-weight="bold" fill="#333" stroke="#333" stroke-width="0.06">-</text>
<text x="63.49" y="455.21" font-size="4.6" text-anchor="middle" font-weight="bold" fill="#333" stroke="#333" stroke-width="0.06">-</text>
<text x="79.82" y="455.21" font-size="4.6" text-anchor="middle" font-weight="bold" fill="#333" stroke="#333" stroke-width="0.06">-</text>
<text x="96.16" y="455.21" font-size="4.6" text-anchor="middle" font-weight="bold" fill="#333" stroke="#333" stroke-width="0.06">-</text>
<text x="112.48" y="455.21" font-size="4.6" text-anchor="middle" font-weight="bold" fill="#333" stroke="#333" stroke-width="0.06">-</text>
<text x="128.81" y="455.29" font-size="5.0" text-anchor="middle" font-weight="bold" fill="#000" stroke="#000" stroke-width="0.4">+</text>
<text x="145.14" y="455.21" font-size="4.6" text-anchor="middle" font-weight="bold" fill="#333" stroke="#333" stroke-width="0.06">-</text>
<text x="161.47" y="455.21" font-size="4.6" text-anchor="middle" font-weight="bold" fill="#333" stroke="#333" stroke-width="0.06">-</text>
<text x="177.80" y="455.29" font-size="5.0" text-anchor="middle" font-weight="bold" fill="#000" stroke="#000" stroke-width="0.4">+</text>
<text x="194.13" y="455.21" font-size="4.6" text-anchor="middle" font-weight="bold" fill="#333" stroke="#333" stroke-width="0.06">-</text>
<text x="210.46" y="455.21" font-size="4.6" text-anchor="middle" font-weight="bold" fill="#333" stroke="#333" stroke-width="0.06">-</text>
<text x="226.79" y="455.21" font-size="4.6" text-anchor="middle" font-weight="bold" fill="#333" stroke="#333" stroke-width="0.06">-</text>
<text x="243.12" y="455.21" font-size="4.6" text-anchor="middle" font-weight="bold" fill="#333" stroke="#333" stroke-width="0.06">-</text>
<text x="47.16" y="461.18" font-size="4.6" text-anchor="middle" font-weight="bold" fill="#333" stroke="#333" stroke-width="0.06">-</text>
<text x="63.49" y="461.18" font-size="4.6" text-anchor="middle" font-weight="bold" fill="#333" stroke="#333" stroke-width="0.06">-</text>
<text x="79.82" y="461.18" font-size="4.6" text-anchor="middle" font-weight="bold" fill="#333" stroke="#333" stroke-width="0.06">-</text>
<text x="96.16" y="461.18" font-size="4.6" text-anchor="middle" font-weight="bold" fill="#333" stroke="#333" stroke-width="0.06">-</text>
<text x="112.48" y="461.18" font-size="4.6" text-anchor="middle" font-weight="bold" fill="#333" stroke="#333" stroke-width="0.06">-</text>
<text x="128.81" y="461.18" font-size="4.6" text-anchor="middle" font-weight="bold" fill="#333" stroke="#333" stroke-width="0.06">-</text>
<text x="145.14" y="461.25" font-size="5.0" text-anchor="middle" font-weight="bold" fill="#000" stroke="#000" stroke-width="0.4">+</text>
<text x="161.47" y="461.18" font-size="4.6" text-anchor="middle" font-weight="bold" fill="#333" stroke="#333" stroke-width="0.06">-</text>
<text x="177.80" y="461.18" font-size="4.6" text-anchor="middle" font-weight="bold" fill="#333" stroke="#333" stroke-width="0.06">-</text>
<text x="194.13" y="461.25" font-size="5.0" text-anchor="middle" font-weight="bold" fill="#000" stroke="#000" stroke-width="0.4">+</text>
<text x="210.46" y="461.18" font-size="4.6" text-anchor="middle" font-weight="bold" fill="#333" stroke="#333" stroke-width="0.06">-</text>
<text x="226.79" y="461.18" font-size="4.6" text-anchor="middle" font-weight="bold" fill="#333" stroke="#333" stroke-width="0.06">-</text>
<text x="243.12" y="461.18" font-size="4.6" text-anchor="middle" font-weight="bold" fill="#333" stroke="#333" stroke-width="0.06">-</text>
<text x="47.16" y="467.15" font-size="4.6" text-anchor="middle" font-weight="bold" fill="#333" stroke="#333" stroke-width="0.06">-</text>
<text x="63.49" y="467.15" font-size="4.6" text-anchor="middle" font-weight="bold" fill="#333" stroke="#333" stroke-width="0.06">-</text>
<text x="79.82" y="467.15" font-size="4.6" text-anchor="middle" font-weight="bold" fill="#333" stroke="#333" stroke-width="0.06">-</text>
<text x="96.16" y="467.15" font-size="4.6" text-anchor="middle" font-weight="bold" fill="#333" stroke="#333" stroke-width="0.06">-</text>
<text x="112.48" y="467.15" font-size="4.6" text-anchor="middle" font-weight="bold" fill="#333" stroke="#333" stroke-width="0.06">-</text>
<text x="128.81" y="467.15" font-size="4.6" text-anchor="middle" font-weight="bold" fill="#333" stroke="#333" stroke-width="0.06">-</text>
<text x="145.14" y="467.15" font-size="4.6" text-anchor="middle" font-weight="bold" fill="#333" stroke="#333" stroke-width="0.06">-</text>
<text x="161.47" y="467.23" font-size="5.0" text-anchor="middle" font-weight="bold" fill="#000" stroke="#000" stroke-width="0.4">+</text>
<text x="177.80" y="467.15" font-size="4.6" text-anchor="middle" font-weight="bold" fill="#333" stroke="#333" stroke-width="0.06">-</text>
<text x="194.13" y="467.15" font-size="4.6" text-anchor="middle" font-weight="bold" fill="#333" stroke="#333" stroke-width="0.06">-</text>
<text x="210.46" y="467.23" font-size="5.0" text-anchor="middle" font-weight="bold" fill="#000" stroke="#000" stroke-width="0.4">+</text>
<text x="226.79" y="467.15" font-size="4.6" text-anchor="middle" font-weight="bold" fill="#333" stroke="#333" stroke-width="0.06">-</text>
<text x="243.12" y="467.15" font-size="4.6" text-anchor="middle" font-weight="bold" fill="#333" stroke="#333" stroke-width="0.06">-</text>
<text x="47.16" y="473.19" font-size="5.0" text-anchor="middle" font-weight="bold" fill="#000" stroke="#000" stroke-width="0.4">+</text>
<text x="63.49" y="473.12" font-size="4.6" text-anchor="middle" font-weight="bold" fill="#333" stroke="#333" stroke-width="0.06">-</text>
<text x="79.82" y="473.12" font-size="4.6" text-anchor="middle" font-weight="bold" fill="#333" stroke="#333" stroke-width="0.06">-</text>
<text x="96.16" y="473.12" font-size="4.6" text-anchor="middle" font-weight="bold" fill="#333" stroke="#333" stroke-width="0.06">-</text>
<text x="112.48" y="473.12" font-size="4.6" text-anchor="middle" font-weight="bold" fill="#333" stroke="#333" stroke-width="0.06">-</text>
<text x="128.81" y="473.19" font-size="5.0" text-anchor="middle" font-weight="bold" fill="#000" stroke="#000" stroke-width="0.4">+</text>
<text x="145.14" y="473.19" font-size="5.0" text-anchor="middle" font-weight="bold" fill="#000" stroke="#000" stroke-width="0.4">+</text>
<text x="161.47" y="473.19" font-size="5.0" text-anchor="middle" font-weight="bold" fill="#000" stroke="#000" stroke-width="0.4">+</text>
<text x="177.80" y="473.12" font-size="4.6" text-anchor="middle" font-weight="bold" fill="#333" stroke="#333" stroke-width="0.06">-</text>
<text x="194.13" y="473.12" font-size="4.6" text-anchor="middle" font-weight="bold" fill="#333" stroke="#333" stroke-width="0.06">-</text>
<text x="210.46" y="473.12" font-size="4.6" text-anchor="middle" font-weight="bold" fill="#333" stroke="#333" stroke-width="0.06">-</text>
<text x="226.79" y="473.12" font-size="4.6" text-anchor="middle" font-weight="bold" fill="#333" stroke="#333" stroke-width="0.06">-</text>
<text x="243.12" y="473.12" font-size="4.6" text-anchor="middle" font-weight="bold" fill="#333" stroke="#333" stroke-width="0.06">-</text>
<text x="47.16" y="479.09" font-size="4.6" text-anchor="middle" font-weight="bold" fill="#333" stroke="#333" stroke-width="0.06">-</text>
<text x="63.49" y="479.17" font-size="5.0" text-anchor="middle" font-weight="bold" fill="#000" stroke="#000" stroke-width="0.4">+</text>
<text x="79.82" y="479.09" font-size="4.6" text-anchor="middle" font-weight="bold" fill="#333" stroke="#333" stroke-width="0.06">-</text>
<text x="96.16" y="479.09" font-size="4.6" text-anchor="middle" font-weight="bold" fill="#333" stroke="#333" stroke-width="0.06">-</text>
<text x="112.48" y="479.09" font-size="4.6" text-anchor="middle" font-weight="bold" fill="#333" stroke="#333" stroke-width="0.06">-</text>
<text x="128.81" y="479.09" font-size="4.6" text-anchor="middle" font-weight="bold" fill="#333" stroke="#333" stroke-width="0.06">-</text>
<text x="145.14" y="479.09" font-size="4.6" text-anchor="middle" font-weight="bold" fill="#333" stroke="#333" stroke-width="0.06">-</text>
<text x="161.47" y="479.09" font-size="4.6" text-anchor="middle" font-weight="bold" fill="#333" stroke="#333" stroke-width="0.06">-</text>
<text x="177.80" y="479.09" font-size="4.6" text-anchor="middle" font-weight="bold" fill="#333" stroke="#333" stroke-width="0.06">-</text>
<text x="194.13" y="479.09" font-size="4.6" text-anchor="middle" font-weight="bold" fill="#333" stroke="#333" stroke-width="0.06">-</text>
<text x="210.46" y="479.09" font-size="4.6" text-anchor="middle" font-weight="bold" fill="#333" stroke="#333" stroke-width="0.06">-</text>
<text x="226.79" y="479.09" font-size="4.6" text-anchor="middle" font-weight="bold" fill="#333" stroke="#333" stroke-width="0.06">-</text>
<text x="243.12" y="479.09" font-size="4.6" text-anchor="middle" font-weight="bold" fill="#333" stroke="#333" stroke-width="0.06">-</text>
<text x="47.16" y="485.06" font-size="4.6" text-anchor="middle" font-weight="bold" fill="#333" stroke="#333" stroke-width="0.06">-</text>
<text x="63.49" y="485.06" font-size="4.6" text-anchor="middle" font-weight="bold" fill="#333" stroke="#333" stroke-width="0.06">-</text>
<text x="79.82" y="485.13" font-size="5.0" text-anchor="middle" font-weight="bold" fill="#000" stroke="#000" stroke-width="0.4">+</text>
<text x="96.16" y="485.06" font-size="4.6" text-anchor="middle" font-weight="bold" fill="#333" stroke="#333" stroke-width="0.06">-</text>
<text x="112.48" y="485.06" font-size="4.6" text-anchor="middle" font-weight="bold" fill="#333" stroke="#333" stroke-width="0.06">-</text>
<text x="128.81" y="485.06" font-size="4.6" text-anchor="middle" font-weight="bold" fill="#333" stroke="#333" stroke-width="0.06">-</text>
<text x="145.14" y="485.06" font-size="4.6" text-anchor="middle" font-weight="bold" fill="#333" stroke="#333" stroke-width="0.06">-</text>
<text x="161.47" y="485.06" font-size="4.6" text-anchor="middle" font-weight="bold" fill="#333" stroke="#333" stroke-width="0.06">-</text>
<text x="177.80" y="485.06" font-size="4.6" text-anchor="middle" font-weight="bold" fill="#333" stroke="#333" stroke-width="0.06">-</text>
<text x="194.13" y="485.06" font-size="4.6" text-anchor="middle" font-weight="bold" fill="#333" stroke="#333" stroke-width="0.06">-</text>
<text x="210.46" y="485.06" font-size="4.6" text-anchor="middle" font-weight="bold" fill="#333" stroke="#333" stroke-width="0.06">-</text>
<text x="226.79" y="485.06" font-size="4.6" text-anchor="middle" font-weight="bold" fill="#333" stroke="#333" stroke-width="0.06">-</text>
<text x="243.12" y="485.06" font-size="4.6" text-anchor="middle" font-weight="bold" fill="#333" stroke="#333" stroke-width="0.06">-</text>
<text x="47.16" y="491.03" font-size="4.6" text-anchor="middle" font-weight="bold" fill="#333" stroke="#333" stroke-width="0.06">-</text>
<text x="63.49" y="491.03" font-size="4.6" text-anchor="middle" font-weight="bold" fill="#333" stroke="#333" stroke-width="0.06">-</text>
<text x="79.82" y="491.03" font-size="4.6" text-anchor="middle" font-weight="bold" fill="#333" stroke="#333" stroke-width="0.06">-</text>
<text x="96.16" y="491.11" font-size="5.0" text-anchor="middle" font-weight="bold" fill="#000" stroke="#000" stroke-width="0.4">+</text>
<text x="112.48" y="491.11" font-size="5.0" text-anchor="middle" font-weight="bold" fill="#000" stroke="#000" stroke-width="0.4">+</text>
<text x="128.81" y="491.03" font-size="4.6" text-anchor="middle" font-weight="bold" fill="#333" stroke="#333" stroke-width="0.06">-</text>
<text x="145.14" y="491.03" font-size="4.6" text-anchor="middle" font-weight="bold" fill="#333" stroke="#333" stroke-width="0.06">-</text>
<text x="161.47" y="491.03" font-size="4.6" text-anchor="middle" font-weight="bold" fill="#333" stroke="#333" stroke-width="0.06">-</text>
<text x="177.80" y="491.11" font-size="5.0" text-anchor="middle" font-weight="bold" fill="#000" stroke="#000" stroke-width="0.4">+</text>
<text x="194.13" y="491.11" font-size="5.0" text-anchor="middle" font-weight="bold" fill="#000" stroke="#000" stroke-width="0.4">+</text>
<text x="210.46" y="491.11" font-size="5.0" text-anchor="middle" font-weight="bold" fill="#000" stroke="#000" stroke-width="0.4">+</text>
<text x="226.79" y="491.03" font-size="4.6" text-anchor="middle" font-weight="bold" fill="#333" stroke="#333" stroke-width="0.06">-</text>
<text x="243.12" y="491.03" font-size="4.6" text-anchor="middle" font-weight="bold" fill="#333" stroke="#333" stroke-width="0.06">-</text>
<text x="47.16" y="497.00" font-size="4.6" text-anchor="middle" font-weight="bold" fill="#333" stroke="#333" stroke-width="0.06">-</text>
<text x="63.49" y="497.00" font-size="4.6" text-anchor="middle" font-weight="bold" fill="#333" stroke="#333" stroke-width="0.06">-</text>
<text x="79.82" y="497.00" font-size="4.6" text-anchor="middle" font-weight="bold" fill="#333" stroke="#333" stroke-width="0.06">-</text>
<text x="96.16" y="497.00" font-size="4.6" text-anchor="middle" font-weight="bold" fill="#333" stroke="#333" stroke-width="0.06">-</text>
<text x="112.48" y="497.07" font-size="5.0" text-anchor="middle" font-weight="bold" fill="#000" stroke="#000" stroke-width="0.4">+</text>
<text x="128.81" y="497.00" font-size="4.6" text-anchor="middle" font-weight="bold" fill="#333" stroke="#333" stroke-width="0.06">-</text>
<text x="145.14" y="497.00" font-size="4.6" text-anchor="middle" font-weight="bold" fill="#333" stroke="#333" stroke-width="0.06">-</text>
<text x="161.47" y="497.00" font-size="4.6" text-anchor="middle" font-weight="bold" fill="#333" stroke="#333" stroke-width="0.06">-</text>
<text x="177.80" y="497.00" font-size="4.6" text-anchor="middle" font-weight="bold" fill="#333" stroke="#333" stroke-width="0.06">-</text>
<text x="194.13" y="497.00" font-size="4.6" text-anchor="middle" font-weight="bold" fill="#333" stroke="#333" stroke-width="0.06">-</text>
<text x="210.46" y="497.00" font-size="4.6" text-anchor="middle" font-weight="bold" fill="#333" stroke="#333" stroke-width="0.06">-</text>
<text x="226.79" y="497.00" font-size="4.6" text-anchor="middle" font-weight="bold" fill="#333" stroke="#333" stroke-width="0.06">-</text>
<text x="243.12" y="497.00" font-size="4.6" text-anchor="middle" font-weight="bold" fill="#333" stroke="#333" stroke-width="0.06">-</text>
<text x="47.16" y="502.97" font-size="4.6" text-anchor="middle" font-weight="bold" fill="#333" stroke="#333" stroke-width="0.06">-</text>
<text x="63.49" y="502.97" font-size="4.6" text-anchor="middle" font-weight="bold" fill="#333" stroke="#333" stroke-width="0.06">-</text>
<text x="79.82" y="502.97" font-size="4.6" text-anchor="middle" font-weight="bold" fill="#333" stroke="#333" stroke-width="0.06">-</text>
<text x="96.16" y="502.97" font-size="4.6" text-anchor="middle" font-weight="bold" fill="#333" stroke="#333" stroke-width="0.06">-</text>
<text x="112.48" y="502.97" font-size="4.6" text-anchor="middle" font-weight="bold" fill="#333" stroke="#333" stroke-width="0.06">-</text>
<text x="128.81" y="502.97" font-size="4.6" text-anchor="middle" font-weight="bold" fill="#333" stroke="#333" stroke-width="0.06">-</text>
<text x="145.14" y="502.97" font-size="4.6" text-anchor="middle" font-weight="bold" fill="#333" stroke="#333" stroke-width="0.06">-</text>
<text x="161.47" y="502.97" font-size="4.6" text-anchor="middle" font-weight="bold" fill="#333" stroke="#333" stroke-width="0.06">-</text>
<text x="177.80" y="502.97" font-size="4.6" text-anchor="middle" font-weight="bold" fill="#333" stroke="#333" stroke-width="0.06">-</text>
<text x="194.13" y="502.97" font-size="4.6" text-anchor="middle" font-weight="bold" fill="#333" stroke="#333" stroke-width="0.06">-</text>
<text x="210.46" y="502.97" font-size="4.6" text-anchor="middle" font-weight="bold" fill="#333" stroke="#333" stroke-width="0.06">-</text>
<text x="226.79" y="502.61" font-size="5.6" text-anchor="middle" font-weight="bold" fill="#111" stroke="#111" stroke-width="0.15">2000</text>
<text x="243.12" y="502.61" font-size="5.6" text-anchor="middle" font-weight="bold" fill="#111" stroke="#111" stroke-width="0.15">1000</text>
<text x="269.00" y="287.00" font-size="13" text-anchor="start" font-weight="bold" fill="#000" stroke="#000" stroke-width="0.15">D</text>
<line x1="302.90" y1="310.30" x2="302.90" y2="433.30" stroke="#8a8a8a" stroke-width="0.8"/>
<line x1="301.90" y1="433.30" x2="302.90" y2="433.30" stroke="#aaa" stroke-width="0.5"/>
<line x1="301.90" y1="430.94" x2="302.90" y2="430.94" stroke="#aaa" stroke-width="0.5"/>
<line x1="301.90" y1="428.58" x2="302.90" y2="428.58" stroke="#aaa" stroke-width="0.5"/>
<line x1="301.90" y1="426.22" x2="302.90" y2="426.22" stroke="#aaa" stroke-width="0.5"/>
<line x1="301.90" y1="423.86" x2="302.90" y2="423.86" stroke="#aaa" stroke-width="0.5"/>
<line x1="301.90" y1="421.50" x2="302.90" y2="421.50" stroke="#aaa" stroke-width="0.5"/>
<line x1="301.90" y1="419.14" x2="302.90" y2="419.14" stroke="#aaa" stroke-width="0.5"/>
<line x1="301.90" y1="416.78" x2="302.90" y2="416.78" stroke="#aaa" stroke-width="0.5"/>
<line x1="301.90" y1="414.42" x2="302.90" y2="414.42" stroke="#aaa" stroke-width="0.5"/>
<line x1="301.90" y1="412.06" x2="302.90" y2="412.06" stroke="#aaa" stroke-width="0.5"/>
<line x1="301.90" y1="409.70" x2="302.90" y2="409.70" stroke="#aaa" stroke-width="0.5"/>
<line x1="301.90" y1="407.34" x2="302.90" y2="407.34" stroke="#aaa" stroke-width="0.5"/>
<line x1="301.90" y1="404.98" x2="302.90" y2="404.98" stroke="#aaa" stroke-width="0.5"/>
<line x1="301.90" y1="402.62" x2="302.90" y2="402.62" stroke="#aaa" stroke-width="0.5"/>
<line x1="301.90" y1="400.26" x2="302.90" y2="400.26" stroke="#aaa" stroke-width="0.5"/>
<line x1="301.90" y1="397.90" x2="302.90" y2="397.90" stroke="#aaa" stroke-width="0.5"/>
<line x1="301.90" y1="395.54" x2="302.90" y2="395.54" stroke="#aaa" stroke-width="0.5"/>
<line x1="301.90" y1="393.18" x2="302.90" y2="393.18" stroke="#aaa" stroke-width="0.5"/>
<line x1="301.90" y1="390.82" x2="302.90" y2="390.82" stroke="#aaa" stroke-width="0.5"/>
<line x1="301.90" y1="388.46" x2="302.90" y2="388.46" stroke="#aaa" stroke-width="0.5"/>
<line x1="301.90" y1="386.10" x2="302.90" y2="386.10" stroke="#aaa" stroke-width="0.5"/>
<line x1="301.90" y1="383.74" x2="302.90" y2="383.74" stroke="#aaa" stroke-width="0.5"/>
<line x1="301.90" y1="381.38" x2="302.90" y2="381.38" stroke="#aaa" stroke-width="0.5"/>
<line x1="301.90" y1="379.02" x2="302.90" y2="379.02" stroke="#aaa" stroke-width="0.5"/>
<line x1="301.90" y1="376.66" x2="302.90" y2="376.66" stroke="#aaa" stroke-width="0.5"/>
<line x1="301.90" y1="374.30" x2="302.90" y2="374.30" stroke="#aaa" stroke-width="0.5"/>
<line x1="301.90" y1="371.94" x2="302.90" y2="371.94" stroke="#aaa" stroke-width="0.5"/>
<line x1="301.90" y1="369.58" x2="302.90" y2="369.58" stroke="#aaa" stroke-width="0.5"/>
<line x1="301.90" y1="367.22" x2="302.90" y2="367.22" stroke="#aaa" stroke-width="0.5"/>
<line x1="301.90" y1="364.86" x2="302.90" y2="364.86" stroke="#aaa" stroke-width="0.5"/>
<line x1="301.90" y1="362.50" x2="302.90" y2="362.50" stroke="#aaa" stroke-width="0.5"/>
<line x1="301.90" y1="360.14" x2="302.90" y2="360.14" stroke="#aaa" stroke-width="0.5"/>
<line x1="301.90" y1="357.78" x2="302.90" y2="357.78" stroke="#aaa" stroke-width="0.5"/>
<line x1="301.90" y1="355.42" x2="302.90" y2="355.42" stroke="#aaa" stroke-width="0.5"/>
<line x1="301.90" y1="353.06" x2="302.90" y2="353.06" stroke="#aaa" stroke-width="0.5"/>
<line x1="301.90" y1="350.70" x2="302.90" y2="350.70" stroke="#aaa" stroke-width="0.5"/>
<line x1="301.90" y1="348.34" x2="302.90" y2="348.34" stroke="#aaa" stroke-width="0.5"/>
<line x1="301.90" y1="345.98" x2="302.90" y2="345.98" stroke="#aaa" stroke-width="0.5"/>
<line x1="301.90" y1="343.62" x2="302.90" y2="343.62" stroke="#aaa" stroke-width="0.5"/>
<line x1="301.90" y1="341.26" x2="302.90" y2="341.26" stroke="#aaa" stroke-width="0.5"/>
<line x1="301.90" y1="338.90" x2="302.90" y2="338.90" stroke="#aaa" stroke-width="0.5"/>
<line x1="301.90" y1="336.54" x2="302.90" y2="336.54" stroke="#aaa" stroke-width="0.5"/>
<line x1="301.90" y1="334.18" x2="302.90" y2="334.18" stroke="#aaa" stroke-width="0.5"/>
<line x1="301.90" y1="331.82" x2="302.90" y2="331.82" stroke="#aaa" stroke-width="0.5"/>
<line x1="301.90" y1="329.46" x2="302.90" y2="329.46" stroke="#aaa" stroke-width="0.5"/>
<line x1="301.90" y1="327.10" x2="302.90" y2="327.10" stroke="#aaa" stroke-width="0.5"/>
<line x1="301.90" y1="324.74" x2="302.90" y2="324.74" stroke="#aaa" stroke-width="0.5"/>
<line x1="301.90" y1="322.38" x2="302.90" y2="322.38" stroke="#aaa" stroke-width="0.5"/>
<line x1="301.90" y1="320.02" x2="302.90" y2="320.02" stroke="#aaa" stroke-width="0.5"/>
<line x1="301.90" y1="317.66" x2="302.90" y2="317.66" stroke="#aaa" stroke-width="0.5"/>
<line x1="302.50" y1="433.30" x2="518.00" y2="433.30" stroke="#555555" stroke-width="0.9"/>
<text x="298.80" y="434.95" font-size="5.4" text-anchor="end" fill="#0c0c0c" stroke="#0c0c0c" stroke-width="0.1">0</text>
<line x1="301.00" y1="433.00" x2="302.90" y2="433.00" stroke="#747474" stroke-width="0.9"/>
<text x="298.80" y="423.15" font-size="5.4" text-anchor="end" fill="#0c0c0c" stroke="#0c0c0c" stroke-width="0.1">2500</text>
<line x1="301.00" y1="421.20" x2="302.90" y2="421.20" stroke="#747474" stroke-width="0.9"/>
<text x="298.80" y="411.35" font-size="5.4" text-anchor="end" fill="#0c0c0c" stroke="#0c0c0c" stroke-width="0.1">5000</text>
<line x1="301.00" y1="409.40" x2="302.90" y2="409.40" stroke="#747474" stroke-width="0.9"/>
<text x="298.80" y="399.55" font-size="5.4" text-anchor="end" fill="#0c0c0c" stroke="#0c0c0c" stroke-width="0.1">7500</text>
<line x1="301.00" y1="397.60" x2="302.90" y2="397.60" stroke="#747474" stroke-width="0.9"/>
<text x="298.80" y="387.75" font-size="5.4" text-anchor="end" fill="#0c0c0c" stroke="#0c0c0c" stroke-width="0.1">10000</text>
<line x1="301.00" y1="385.80" x2="302.90" y2="385.80" stroke="#747474" stroke-width="0.9"/>
<text x="298.80" y="375.95" font-size="5.4" text-anchor="end" fill="#0c0c0c" stroke="#0c0c0c" stroke-width="0.1">12500</text>
<line x1="301.00" y1="374.00" x2="302.90" y2="374.00" stroke="#747474" stroke-width="0.9"/>
<text x="298.80" y="364.15" font-size="5.4" text-anchor="end" fill="#0c0c0c" stroke="#0c0c0c" stroke-width="0.1">15000</text>
<line x1="301.00" y1="362.20" x2="302.90" y2="362.20" stroke="#747474" stroke-width="0.9"/>
<text x="298.80" y="352.35" font-size="5.4" text-anchor="end" fill="#0c0c0c" stroke="#0c0c0c" stroke-width="0.1">17500</text>
<line x1="301.00" y1="350.40" x2="302.90" y2="350.40" stroke="#747474" stroke-width="0.9"/>
<text x="298.80" y="340.55" font-size="5.4" text-anchor="end" fill="#0c0c0c" stroke="#0c0c0c" stroke-width="0.1">20000</text>
<line x1="301.00" y1="338.60" x2="302.90" y2="338.60" stroke="#747474" stroke-width="0.9"/>
<text x="298.80" y="328.75" font-size="5.4" text-anchor="end" fill="#0c0c0c" stroke="#0c0c0c" stroke-width="0.1">22500</text>
<line x1="301.00" y1="326.80" x2="302.90" y2="326.80" stroke="#747474" stroke-width="0.9"/>
<text x="298.80" y="316.95" font-size="5.4" text-anchor="end" fill="#0c0c0c" stroke="#0c0c0c" stroke-width="0.1">25000</text>
<line x1="301.00" y1="315.00" x2="302.90" y2="315.00" stroke="#747474" stroke-width="0.9"/>
<text transform="translate(279.30,370.40) rotate(-90)" font-size="7.8" font-weight="bold" text-anchor="middle" fill="#111" stroke="#111" stroke-width="0.2">IFN<tspan font-size="6.40">&#947;</tspan> (pg/mL)</text>
<rect x="315.20" y="386.70" width="11.10" height="46.60" fill="#c6c6c6" stroke="#969696" stroke-width="0.8"/>
<rect x="333.13" y="432.60" width="11.10" height="0.70" fill="#c6c6c6" stroke="#969696" stroke-width="0.8"/>
<rect x="351.06" y="330.40" width="11.10" height="102.90" fill="#c6c6c6" stroke="#969696" stroke-width="0.8"/>
<rect x="368.99" y="423.10" width="11.10" height="10.20" fill="#c6c6c6" stroke="#969696" stroke-width="0.8"/>
<rect x="386.92" y="394.80" width="11.10" height="38.50" fill="#c6c6c6" stroke="#969696" stroke-width="0.8"/>
<rect x="404.85" y="432.00" width="11.10" height="1.30" fill="#c6c6c6" stroke="#969696" stroke-width="0.8"/>
<rect x="422.78" y="410.80" width="11.10" height="22.50" fill="#c6c6c6" stroke="#969696" stroke-width="0.8"/>
<rect x="440.71" y="322.30" width="11.10" height="111.00" fill="#c6c6c6" stroke="#969696" stroke-width="0.8"/>
<rect x="458.64" y="338.30" width="11.10" height="95.00" fill="#c6c6c6" stroke="#969696" stroke-width="0.8"/>
<rect x="476.57" y="324.10" width="11.10" height="109.20" fill="#c6c6c6" stroke="#969696" stroke-width="0.8"/>
<rect x="494.50" y="338.30" width="11.10" height="95.00" fill="#c6c6c6" stroke="#969696" stroke-width="0.8"/>
<line x1="356.61" y1="330.40" x2="356.61" y2="312.50" stroke="#6e6e6e" stroke-width="0.65"/>
<line x1="354.81" y1="312.50" x2="358.41" y2="312.50" stroke="#6e6e6e" stroke-width="0.65"/>
<line x1="374.54" y1="423.10" x2="374.54" y2="420.00" stroke="#6e6e6e" stroke-width="0.65"/>
<line x1="372.74" y1="420.00" x2="376.34" y2="420.00" stroke="#6e6e6e" stroke-width="0.65"/>
<line x1="392.47" y1="394.80" x2="392.47" y2="388.00" stroke="#6e6e6e" stroke-width="0.65"/>
<line x1="390.67" y1="388.00" x2="394.27" y2="388.00" stroke="#6e6e6e" stroke-width="0.65"/>
<line x1="320.75" y1="433.30" x2="320.75" y2="435.30" stroke="#555555" stroke-width="0.8"/>
<line x1="338.68" y1="433.30" x2="338.68" y2="435.30" stroke="#555555" stroke-width="0.8"/>
<line x1="356.61" y1="433.30" x2="356.61" y2="435.30" stroke="#555555" stroke-width="0.8"/>
<line x1="374.54" y1="433.30" x2="374.54" y2="435.30" stroke="#555555" stroke-width="0.8"/>
<line x1="392.47" y1="433.30" x2="392.47" y2="435.30" stroke="#555555" stroke-width="0.8"/>
<line x1="410.40" y1="433.30" x2="410.40" y2="435.30" stroke="#555555" stroke-width="0.8"/>
<line x1="428.33" y1="433.30" x2="428.33" y2="435.30" stroke="#555555" stroke-width="0.8"/>
<line x1="446.26" y1="433.30" x2="446.26" y2="435.30" stroke="#555555" stroke-width="0.8"/>
<line x1="464.19" y1="433.30" x2="464.19" y2="435.30" stroke="#555555" stroke-width="0.8"/>
<line x1="482.12" y1="433.30" x2="482.12" y2="435.30" stroke="#555555" stroke-width="0.8"/>
<line x1="500.05" y1="433.30" x2="500.05" y2="435.30" stroke="#555555" stroke-width="0.8"/>
<text x="265.50" y="446.90" font-size="8.3" text-anchor="start" font-weight="bold" fill="#000" stroke="#000" stroke-width="0.15">Treatment</text>
<text x="265.80" y="452.80" font-size="5.6" text-anchor="start" fill="#0c0c0c" stroke="#0c0c0c" stroke-width="0.06">Chloroquine</text>
<text x="265.80" y="458.57" font-size="5.6" text-anchor="start" fill="#0c0c0c" stroke="#0c0c0c" stroke-width="0.06">Lactocystin</text>
<text x="265.80" y="464.34" font-size="5.6" text-anchor="start" fill="#0c0c0c" stroke="#0c0c0c" stroke-width="0.06">MIP3&#945;VL315</text>
<text x="265.80" y="470.11" font-size="5.6" text-anchor="start" fill="#0c0c0c" stroke="#0c0c0c" stroke-width="0.06">DF2&#946;sFV38</text>
<text x="265.80" y="475.88" font-size="5.6" text-anchor="start" fill="#0c0c0c" stroke="#0c0c0c" stroke-width="0.06">sFv315</text>
<text x="265.80" y="481.65" font-size="5.6" text-anchor="start" fill="#0c0c0c" stroke="#0c0c0c" stroke-width="0.06">91-101 peptide</text>
<text x="265.80" y="487.42" font-size="5.6" text-anchor="start" fill="#0c0c0c" stroke="#0c0c0c" stroke-width="0.06">Irrelevent peptide</text>
<line x1="311.00" y1="448.80" x2="515.38" y2="448.80" stroke="#d6d6d6" stroke-width="0.6"/>
<line x1="311.00" y1="454.40" x2="515.38" y2="454.40" stroke="#d6d6d6" stroke-width="0.6"/>
<line x1="311.00" y1="460.00" x2="515.38" y2="460.00" stroke="#d6d6d6" stroke-width="0.6"/>
<line x1="311.00" y1="465.60" x2="515.38" y2="465.60" stroke="#d6d6d6" stroke-width="0.6"/>
<line x1="311.00" y1="471.20" x2="515.38" y2="471.20" stroke="#d6d6d6" stroke-width="0.6"/>
<line x1="311.00" y1="476.80" x2="515.38" y2="476.80" stroke="#d6d6d6" stroke-width="0.6"/>
<line x1="311.00" y1="482.40" x2="515.38" y2="482.40" stroke="#d6d6d6" stroke-width="0.6"/>
<line x1="311.00" y1="488.00" x2="515.38" y2="488.00" stroke="#d6d6d6" stroke-width="0.6"/>
<line x1="311.00" y1="448.80" x2="311.00" y2="488.00" stroke="#d6d6d6" stroke-width="0.6"/>
<line x1="329.58" y1="448.80" x2="329.58" y2="488.00" stroke="#d6d6d6" stroke-width="0.6"/>
<line x1="348.16" y1="448.80" x2="348.16" y2="488.00" stroke="#d6d6d6" stroke-width="0.6"/>
<line x1="366.74" y1="448.80" x2="366.74" y2="488.00" stroke="#d6d6d6" stroke-width="0.6"/>
<line x1="385.32" y1="448.80" x2="385.32" y2="488.00" stroke="#d6d6d6" stroke-width="0.6"/>
<line x1="403.90" y1="448.80" x2="403.90" y2="488.00" stroke="#d6d6d6" stroke-width="0.6"/>
<line x1="422.48" y1="448.80" x2="422.48" y2="488.00" stroke="#d6d6d6" stroke-width="0.6"/>
<line x1="441.06" y1="448.80" x2="441.06" y2="488.00" stroke="#d6d6d6" stroke-width="0.6"/>
<line x1="459.64" y1="448.80" x2="459.64" y2="488.00" stroke="#d6d6d6" stroke-width="0.6"/>
<line x1="478.22" y1="448.80" x2="478.22" y2="488.00" stroke="#d6d6d6" stroke-width="0.6"/>
<line x1="496.80" y1="448.80" x2="496.80" y2="488.00" stroke="#d6d6d6" stroke-width="0.6"/>
<line x1="515.38" y1="448.80" x2="515.38" y2="488.00" stroke="#d6d6d6" stroke-width="0.6"/>
<text x="320.29" y="453.03" font-size="4.6" text-anchor="middle" font-weight="bold" fill="#333" stroke="#333" stroke-width="0.06">-</text>
<text x="338.87" y="453.03" font-size="4.6" text-anchor="middle" font-weight="bold" fill="#333" stroke="#333" stroke-width="0.06">-</text>
<text x="357.45" y="453.03" font-size="4.6" text-anchor="middle" font-weight="bold" fill="#333" stroke="#333" stroke-width="0.06">-</text>
<text x="376.03" y="453.03" font-size="4.6" text-anchor="middle" font-weight="bold" fill="#333" stroke="#333" stroke-width="0.06">-</text>
<text x="394.61" y="453.03" font-size="4.6" text-anchor="middle" font-weight="bold" fill="#333" stroke="#333" stroke-width="0.06">-</text>
<text x="413.19" y="453.56" font-size="5.6" text-anchor="middle" font-weight="bold" fill="#111" stroke="#111" stroke-width="0.15">50</text>
<text x="431.77" y="453.56" font-size="5.6" text-anchor="middle" font-weight="bold" fill="#111" stroke="#111" stroke-width="0.15">10</text>
<text x="450.35" y="453.56" font-size="5.6" text-anchor="middle" font-weight="bold" fill="#111" stroke="#111" stroke-width="0.15">1</text>
<text x="468.93" y="453.03" font-size="4.6" text-anchor="middle" font-weight="bold" fill="#333" stroke="#333" stroke-width="0.06">-</text>
<text x="487.51" y="453.03" font-size="4.6" text-anchor="middle" font-weight="bold" fill="#333" stroke="#333" stroke-width="0.06">-</text>
<text x="506.09" y="453.03" font-size="4.6" text-anchor="middle" font-weight="bold" fill="#333" stroke="#333" stroke-width="0.06">-</text>
<text x="320.29" y="458.63" font-size="4.6" text-anchor="middle" font-weight="bold" fill="#333" stroke="#333" stroke-width="0.06">-</text>
<text x="338.87" y="458.63" font-size="4.6" text-anchor="middle" font-weight="bold" fill="#333" stroke="#333" stroke-width="0.06">-</text>
<text x="357.45" y="458.63" font-size="4.6" text-anchor="middle" font-weight="bold" fill="#333" stroke="#333" stroke-width="0.06">-</text>
<text x="376.03" y="458.63" font-size="4.6" text-anchor="middle" font-weight="bold" fill="#333" stroke="#333" stroke-width="0.06">-</text>
<text x="394.61" y="458.63" font-size="4.6" text-anchor="middle" font-weight="bold" fill="#333" stroke="#333" stroke-width="0.06">-</text>
<text x="413.19" y="458.63" font-size="4.6" text-anchor="middle" font-weight="bold" fill="#333" stroke="#333" stroke-width="0.06">-</text>
<text x="431.77" y="458.63" font-size="4.6" text-anchor="middle" font-weight="bold" fill="#333" stroke="#333" stroke-width="0.06">-</text>
<text x="450.35" y="458.63" font-size="4.6" text-anchor="middle" font-weight="bold" fill="#333" stroke="#333" stroke-width="0.06">-</text>
<text x="468.93" y="459.16" font-size="5.6" text-anchor="middle" font-weight="bold" fill="#111" stroke="#111" stroke-width="0.15">50</text>
<text x="487.51" y="459.16" font-size="5.6" text-anchor="middle" font-weight="bold" fill="#111" stroke="#111" stroke-width="0.15">10</text>
<text x="506.09" y="459.16" font-size="5.6" text-anchor="middle" font-weight="bold" fill="#111" stroke="#111" stroke-width="0.15">1</text>
<text x="320.29" y="464.23" font-size="4.6" text-anchor="middle" font-weight="bold" fill="#333" stroke="#333" stroke-width="0.06">-</text>
<text x="338.87" y="464.23" font-size="4.6" text-anchor="middle" font-weight="bold" fill="#333" stroke="#333" stroke-width="0.06">-</text>
<text x="357.45" y="464.30" font-size="5.0" text-anchor="middle" font-weight="bold" fill="#000" stroke="#000" stroke-width="0.4">+</text>
<text x="376.03" y="464.23" font-size="4.6" text-anchor="middle" font-weight="bold" fill="#333" stroke="#333" stroke-width="0.06">-</text>
<text x="394.61" y="464.23" font-size="4.6" text-anchor="middle" font-weight="bold" fill="#333" stroke="#333" stroke-width="0.06">-</text>
<text x="413.19" y="464.30" font-size="5.0" text-anchor="middle" font-weight="bold" fill="#000" stroke="#000" stroke-width="0.4">+</text>
<text x="431.77" y="464.30" font-size="5.0" text-anchor="middle" font-weight="bold" fill="#000" stroke="#000" stroke-width="0.4">+</text>
<text x="450.35" y="464.30" font-size="5.0" text-anchor="middle" font-weight="bold" fill="#000" stroke="#000" stroke-width="0.4">+</text>
<text x="468.93" y="464.30" font-size="5.0" text-anchor="middle" font-weight="bold" fill="#000" stroke="#000" stroke-width="0.4">+</text>
<text x="487.51" y="464.30" font-size="5.0" text-anchor="middle" font-weight="bold" fill="#000" stroke="#000" stroke-width="0.4">+</text>
<text x="506.09" y="464.30" font-size="5.0" text-anchor="middle" font-weight="bold" fill="#000" stroke="#000" stroke-width="0.4">+</text>
<text x="320.29" y="469.83" font-size="4.6" text-anchor="middle" font-weight="bold" fill="#333" stroke="#333" stroke-width="0.06">-</text>
<text x="338.87" y="469.83" font-size="4.6" text-anchor="middle" font-weight="bold" fill="#333" stroke="#333" stroke-width="0.06">-</text>
<text x="357.45" y="469.83" font-size="4.6" text-anchor="middle" font-weight="bold" fill="#333" stroke="#333" stroke-width="0.06">-</text>
<text x="376.03" y="469.83" font-size="4.6" text-anchor="middle" font-weight="bold" fill="#333" stroke="#333" stroke-width="0.06">-</text>
<text x="394.61" y="469.90" font-size="5.0" text-anchor="middle" font-weight="bold" fill="#000" stroke="#000" stroke-width="0.4">+</text>
<text x="413.19" y="469.83" font-size="4.6" text-anchor="middle" font-weight="bold" fill="#333" stroke="#333" stroke-width="0.06">-</text>
<text x="431.77" y="469.83" font-size="4.6" text-anchor="middle" font-weight="bold" fill="#333" stroke="#333" stroke-width="0.06">-</text>
<text x="450.35" y="469.83" font-size="4.6" text-anchor="middle" font-weight="bold" fill="#333" stroke="#333" stroke-width="0.06">-</text>
<text x="468.93" y="469.83" font-size="4.6" text-anchor="middle" font-weight="bold" fill="#333" stroke="#333" stroke-width="0.06">-</text>
<text x="487.51" y="469.83" font-size="4.6" text-anchor="middle" font-weight="bold" fill="#333" stroke="#333" stroke-width="0.06">-</text>
<text x="506.09" y="469.83" font-size="4.6" text-anchor="middle" font-weight="bold" fill="#333" stroke="#333" stroke-width="0.06">-</text>
<text x="320.29" y="475.43" font-size="4.6" text-anchor="middle" font-weight="bold" fill="#333" stroke="#333" stroke-width="0.06">-</text>
<text x="338.87" y="475.43" font-size="4.6" text-anchor="middle" font-weight="bold" fill="#333" stroke="#333" stroke-width="0.06">-</text>
<text x="357.45" y="475.43" font-size="4.6" text-anchor="middle" font-weight="bold" fill="#333" stroke="#333" stroke-width="0.06">-</text>
<text x="376.03" y="475.50" font-size="5.0" text-anchor="middle" font-weight="bold" fill="#000" stroke="#000" stroke-width="0.4">+</text>
<text x="394.61" y="475.43" font-size="4.6" text-anchor="middle" font-weight="bold" fill="#333" stroke="#333" stroke-width="0.06">-</text>
<text x="413.19" y="475.43" font-size="4.6" text-anchor="middle" font-weight="bold" fill="#333" stroke="#333" stroke-width="0.06">-</text>
<text x="431.77" y="475.43" font-size="4.6" text-anchor="middle" font-weight="bold" fill="#333" stroke="#333" stroke-width="0.06">-</text>
<text x="450.35" y="475.43" font-size="4.6" text-anchor="middle" font-weight="bold" fill="#333" stroke="#333" stroke-width="0.06">-</text>
<text x="468.93" y="475.43" font-size="4.6" text-anchor="middle" font-weight="bold" fill="#333" stroke="#333" stroke-width="0.06">-</text>
<text x="487.51" y="475.43" font-size="4.6" text-anchor="middle" font-weight="bold" fill="#333" stroke="#333" stroke-width="0.06">-</text>
<text x="506.09" y="475.43" font-size="4.6" text-anchor="middle" font-weight="bold" fill="#333" stroke="#333" stroke-width="0.06">-</text>
<text x="320.29" y="481.10" font-size="5.0" text-anchor="middle" font-weight="bold" fill="#000" stroke="#000" stroke-width="0.4">+</text>
<text x="338.87" y="481.03" font-size="4.6" text-anchor="middle" font-weight="bold" fill="#333" stroke="#333" stroke-width="0.06">-</text>
<text x="357.45" y="481.03" font-size="4.6" text-anchor="middle" font-weight="bold" fill="#333" stroke="#333" stroke-width="0.06">-</text>
<text x="376.03" y="481.03" font-size="4.6" text-anchor="middle" font-weight="bold" fill="#333" stroke="#333" stroke-width="0.06">-</text>
<text x="394.61" y="481.03" font-size="4.6" text-anchor="middle" font-weight="bold" fill="#333" stroke="#333" stroke-width="0.06">-</text>
<text x="413.19" y="481.03" font-size="4.6" text-anchor="middle" font-weight="bold" fill="#333" stroke="#333" stroke-width="0.06">-</text>
<text x="431.77" y="481.03" font-size="4.6" text-anchor="middle" font-weight="bold" fill="#333" stroke="#333" stroke-width="0.06">-</text>
<text x="450.35" y="481.03" font-size="4.6" text-anchor="middle" font-weight="bold" fill="#333" stroke="#333" stroke-width="0.06">-</text>
<text x="468.93" y="481.03" font-size="4.6" text-anchor="middle" font-weight="bold" fill="#333" stroke="#333" stroke-width="0.06">-</text>
<text x="487.51" y="481.03" font-size="4.6" text-anchor="middle" font-weight="bold" fill="#333" stroke="#333" stroke-width="0.06">-</text>
<text x="506.09" y="481.03" font-size="4.6" text-anchor="middle" font-weight="bold" fill="#333" stroke="#333" stroke-width="0.06">-</text>
<text x="320.29" y="486.63" font-size="4.6" text-anchor="middle" font-weight="bold" fill="#333" stroke="#333" stroke-width="0.06">-</text>
<text x="338.87" y="486.70" font-size="5.0" text-anchor="middle" font-weight="bold" fill="#000" stroke="#000" stroke-width="0.4">+</text>
<text x="357.45" y="486.63" font-size="4.6" text-anchor="middle" font-weight="bold" fill="#333" stroke="#333" stroke-width="0.06">-</text>
<text x="376.03" y="486.63" font-size="4.6" text-anchor="middle" font-weight="bold" fill="#333" stroke="#333" stroke-width="0.06">-</text>
<text x="394.61" y="486.63" font-size="4.6" text-anchor="middle" font-weight="bold" fill="#333" stroke="#333" stroke-width="0.06">-</text>
<text x="413.19" y="486.63" font-size="4.6" text-anchor="middle" font-weight="bold" fill="#333" stroke="#333" stroke-width="0.06">-</text>
<text x="431.77" y="486.63" font-size="4.6" text-anchor="middle" font-weight="bold" fill="#333" stroke="#333" stroke-width="0.06">-</text>
<text x="450.35" y="486.63" font-size="4.6" text-anchor="middle" font-weight="bold" fill="#333" stroke="#333" stroke-width="0.06">-</text>
<text x="468.93" y="486.63" font-size="4.6" text-anchor="middle" font-weight="bold" fill="#333" stroke="#333" stroke-width="0.06">-</text>
<text x="487.51" y="486.63" font-size="4.6" text-anchor="middle" font-weight="bold" fill="#333" stroke="#333" stroke-width="0.06">-</text>
<text x="506.09" y="486.63" font-size="4.6" text-anchor="middle" font-weight="bold" fill="#333" stroke="#333" stroke-width="0.06">-</text>
</g>
</svg>
</body>
</html>
